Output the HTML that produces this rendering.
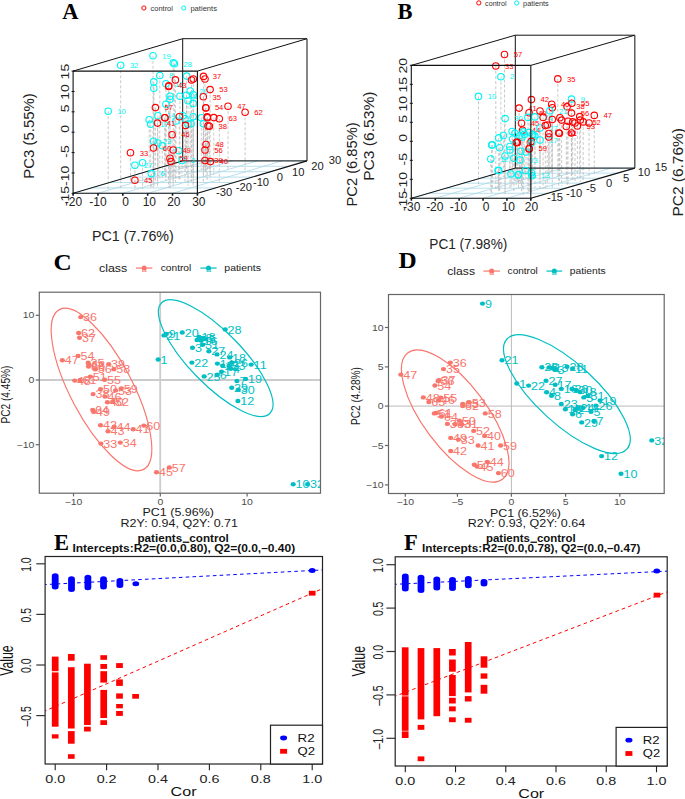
<!DOCTYPE html>
<html><head><meta charset="utf-8"><title>Figure</title>
<style>html,body{margin:0;padding:0;background:#fff;overflow:hidden}svg{display:block;font-family:"Liberation Sans",sans-serif}</style>
</head><body>
<svg width="685" height="799" viewBox="0 0 685 799"><text transform="translate(62.3,19.2)" font-family="Liberation Serif" font-size="22.5" fill="#000" text-anchor="start" font-weight="bold">A</text>
<text transform="translate(397.6,18.8)" font-family="Liberation Serif" font-size="22.5" fill="#000" text-anchor="start" font-weight="bold">B</text>
<text transform="translate(53.4,269.6) scale(1.12,1)" font-family="Liberation Serif" font-size="22.5" fill="#000" text-anchor="start" font-weight="bold">C</text>
<text transform="translate(398.4,268.3) scale(1.12,1)" font-family="Liberation Serif" font-size="22.5" fill="#000" text-anchor="start" font-weight="bold">D</text>
<text transform="translate(54,550.1)" font-family="Liberation Serif" font-size="22.5" fill="#000" text-anchor="start" font-weight="bold">E</text>
<text transform="translate(404,550.4)" font-family="Liberation Serif" font-size="22.5" fill="#000" text-anchor="start" font-weight="bold">F</text>
<line x1="73.1" y1="193.3" x2="182.7" y2="160.9" stroke="#a8d8e8" stroke-width="0.8"/>
<line x1="97.96" y1="193.3" x2="207.56" y2="160.9" stroke="#a8d8e8" stroke-width="0.8"/>
<line x1="122.82" y1="193.3" x2="232.42" y2="160.9" stroke="#a8d8e8" stroke-width="0.8"/>
<line x1="147.68" y1="193.3" x2="257.28" y2="160.9" stroke="#a8d8e8" stroke-width="0.8"/>
<line x1="172.54" y1="193.3" x2="282.14" y2="160.9" stroke="#a8d8e8" stroke-width="0.8"/>
<line x1="197.4" y1="193.3" x2="307" y2="160.9" stroke="#a8d8e8" stroke-width="0.8"/>
<line x1="73.1" y1="193.3" x2="197.4" y2="193.3" stroke="#a8d8e8" stroke-width="0.8"/>
<line x1="91.37" y1="187.9" x2="215.67" y2="187.9" stroke="#a8d8e8" stroke-width="0.8"/>
<line x1="109.63" y1="182.5" x2="233.93" y2="182.5" stroke="#a8d8e8" stroke-width="0.8"/>
<line x1="127.9" y1="177.1" x2="252.2" y2="177.1" stroke="#a8d8e8" stroke-width="0.8"/>
<line x1="146.17" y1="171.7" x2="270.47" y2="171.7" stroke="#a8d8e8" stroke-width="0.8"/>
<line x1="164.43" y1="166.3" x2="288.73" y2="166.3" stroke="#a8d8e8" stroke-width="0.8"/>
<line x1="182.7" y1="160.9" x2="307" y2="160.9" stroke="#a8d8e8" stroke-width="0.8"/>
<line x1="120.7" y1="65.3" x2="120.7" y2="188" stroke="#bdbdbd" stroke-width="0.8" stroke-dasharray="3,2"/>
<line x1="153" y1="55.8" x2="153" y2="187.26" stroke="#bdbdbd" stroke-width="0.8" stroke-dasharray="3,2"/>
<line x1="174.4" y1="63.8" x2="174.4" y2="175.16" stroke="#bdbdbd" stroke-width="0.8" stroke-dasharray="3,2"/>
<line x1="173.2" y1="62.8" x2="173.2" y2="187.36" stroke="#bdbdbd" stroke-width="0.8" stroke-dasharray="3,2"/>
<line x1="159.8" y1="75.5" x2="159.8" y2="179.84" stroke="#bdbdbd" stroke-width="0.8" stroke-dasharray="3,2"/>
<line x1="153.8" y1="81.9" x2="153.8" y2="183.61" stroke="#bdbdbd" stroke-width="0.8" stroke-dasharray="3,2"/>
<line x1="153.8" y1="88.2" x2="153.8" y2="188.75" stroke="#bdbdbd" stroke-width="0.8" stroke-dasharray="3,2"/>
<line x1="165.9" y1="83.8" x2="165.9" y2="179.44" stroke="#bdbdbd" stroke-width="0.8" stroke-dasharray="3,2"/>
<line x1="108.2" y1="111.2" x2="108.2" y2="191.47" stroke="#bdbdbd" stroke-width="0.8" stroke-dasharray="3,2"/>
<line x1="165.9" y1="104.2" x2="165.9" y2="180.86" stroke="#bdbdbd" stroke-width="0.8" stroke-dasharray="3,2"/>
<line x1="170" y1="96.2" x2="170" y2="187.6" stroke="#bdbdbd" stroke-width="0.8" stroke-dasharray="3,2"/>
<line x1="170" y1="99.3" x2="170" y2="187.18" stroke="#bdbdbd" stroke-width="0.8" stroke-dasharray="3,2"/>
<line x1="179.9" y1="96.2" x2="179.9" y2="179.18" stroke="#bdbdbd" stroke-width="0.8" stroke-dasharray="3,2"/>
<line x1="186.5" y1="95.2" x2="186.5" y2="169.69" stroke="#bdbdbd" stroke-width="0.8" stroke-dasharray="3,2"/>
<line x1="193.3" y1="94.8" x2="193.3" y2="185.63" stroke="#bdbdbd" stroke-width="0.8" stroke-dasharray="3,2"/>
<line x1="188" y1="100.8" x2="188" y2="183.38" stroke="#bdbdbd" stroke-width="0.8" stroke-dasharray="3,2"/>
<line x1="193.1" y1="103.4" x2="193.1" y2="174.21" stroke="#bdbdbd" stroke-width="0.8" stroke-dasharray="3,2"/>
<line x1="190.2" y1="91" x2="190.2" y2="166.95" stroke="#bdbdbd" stroke-width="0.8" stroke-dasharray="3,2"/>
<line x1="186.7" y1="76.1" x2="186.7" y2="175.35" stroke="#bdbdbd" stroke-width="0.8" stroke-dasharray="3,2"/>
<line x1="157.9" y1="115.7" x2="157.9" y2="182.58" stroke="#bdbdbd" stroke-width="0.8" stroke-dasharray="3,2"/>
<line x1="149.2" y1="119.7" x2="149.2" y2="174.55" stroke="#bdbdbd" stroke-width="0.8" stroke-dasharray="3,2"/>
<line x1="150.7" y1="124.3" x2="150.7" y2="189.11" stroke="#bdbdbd" stroke-width="0.8" stroke-dasharray="3,2"/>
<line x1="182.9" y1="115.7" x2="182.9" y2="168.97" stroke="#bdbdbd" stroke-width="0.8" stroke-dasharray="3,2"/>
<line x1="185" y1="118.7" x2="185" y2="181.87" stroke="#bdbdbd" stroke-width="0.8" stroke-dasharray="3,2"/>
<line x1="193.1" y1="116.7" x2="193.1" y2="185.17" stroke="#bdbdbd" stroke-width="0.8" stroke-dasharray="3,2"/>
<line x1="188" y1="124.3" x2="188" y2="185.77" stroke="#bdbdbd" stroke-width="0.8" stroke-dasharray="3,2"/>
<line x1="191.1" y1="123.8" x2="191.1" y2="181.44" stroke="#bdbdbd" stroke-width="0.8" stroke-dasharray="3,2"/>
<line x1="201.3" y1="117.7" x2="201.3" y2="169.61" stroke="#bdbdbd" stroke-width="0.8" stroke-dasharray="3,2"/>
<line x1="203.4" y1="123.8" x2="203.4" y2="183.06" stroke="#bdbdbd" stroke-width="0.8" stroke-dasharray="3,2"/>
<line x1="153.5" y1="141.2" x2="153.5" y2="180.06" stroke="#bdbdbd" stroke-width="0.8" stroke-dasharray="3,2"/>
<line x1="162.3" y1="145.8" x2="162.3" y2="177.55" stroke="#bdbdbd" stroke-width="0.8" stroke-dasharray="3,2"/>
<line x1="178.7" y1="150.7" x2="178.7" y2="180.48" stroke="#bdbdbd" stroke-width="0.8" stroke-dasharray="3,2"/>
<line x1="182" y1="160.5" x2="182" y2="176.13" stroke="#bdbdbd" stroke-width="0.8" stroke-dasharray="3,2"/>
<line x1="134.9" y1="165.3" x2="134.9" y2="189.76" stroke="#bdbdbd" stroke-width="0.8" stroke-dasharray="3,2"/>
<line x1="142.6" y1="162.7" x2="142.6" y2="189.36" stroke="#bdbdbd" stroke-width="0.8" stroke-dasharray="3,2"/>
<line x1="151.3" y1="173.6" x2="151.3" y2="186.5" stroke="#bdbdbd" stroke-width="0.8" stroke-dasharray="3,2"/>
<line x1="158" y1="143" x2="158" y2="177.58" stroke="#bdbdbd" stroke-width="0.8" stroke-dasharray="3,2"/>
<line x1="176" y1="121" x2="176" y2="179.63" stroke="#bdbdbd" stroke-width="0.8" stroke-dasharray="3,2"/>
<line x1="175.4" y1="79.9" x2="175.4" y2="182.11" stroke="#bdbdbd" stroke-width="0.8" stroke-dasharray="3,2"/>
<line x1="168.8" y1="85.7" x2="168.8" y2="177.46" stroke="#bdbdbd" stroke-width="0.8" stroke-dasharray="3,2"/>
<line x1="193.3" y1="79" x2="193.3" y2="178.16" stroke="#bdbdbd" stroke-width="0.8" stroke-dasharray="3,2"/>
<line x1="191.5" y1="80" x2="191.5" y2="181.64" stroke="#bdbdbd" stroke-width="0.8" stroke-dasharray="3,2"/>
<line x1="203.5" y1="76.4" x2="203.5" y2="169.89" stroke="#bdbdbd" stroke-width="0.8" stroke-dasharray="3,2"/>
<line x1="205" y1="79" x2="205" y2="171.78" stroke="#bdbdbd" stroke-width="0.8" stroke-dasharray="3,2"/>
<line x1="210.1" y1="89.6" x2="210.1" y2="180.35" stroke="#bdbdbd" stroke-width="0.8" stroke-dasharray="3,2"/>
<line x1="203.3" y1="96.8" x2="203.3" y2="174.63" stroke="#bdbdbd" stroke-width="0.8" stroke-dasharray="3,2"/>
<line x1="155.4" y1="107.6" x2="155.4" y2="180.71" stroke="#bdbdbd" stroke-width="0.8" stroke-dasharray="3,2"/>
<line x1="205.7" y1="107.7" x2="205.7" y2="168.01" stroke="#bdbdbd" stroke-width="0.8" stroke-dasharray="3,2"/>
<line x1="228" y1="106.2" x2="228" y2="168.83" stroke="#bdbdbd" stroke-width="0.8" stroke-dasharray="3,2"/>
<line x1="245.1" y1="112.3" x2="245.1" y2="172.77" stroke="#bdbdbd" stroke-width="0.8" stroke-dasharray="3,2"/>
<line x1="164.8" y1="117.7" x2="164.8" y2="170.63" stroke="#bdbdbd" stroke-width="0.8" stroke-dasharray="3,2"/>
<line x1="157.5" y1="123.1" x2="157.5" y2="187.5" stroke="#bdbdbd" stroke-width="0.8" stroke-dasharray="3,2"/>
<line x1="179.3" y1="116.7" x2="179.3" y2="179.4" stroke="#bdbdbd" stroke-width="0.8" stroke-dasharray="3,2"/>
<line x1="185.5" y1="125.4" x2="185.5" y2="171.27" stroke="#bdbdbd" stroke-width="0.8" stroke-dasharray="3,2"/>
<line x1="207.2" y1="116.9" x2="207.2" y2="182.84" stroke="#bdbdbd" stroke-width="0.8" stroke-dasharray="3,2"/>
<line x1="213.8" y1="117.6" x2="213.8" y2="174.89" stroke="#bdbdbd" stroke-width="0.8" stroke-dasharray="3,2"/>
<line x1="219.3" y1="118.7" x2="219.3" y2="182.23" stroke="#bdbdbd" stroke-width="0.8" stroke-dasharray="3,2"/>
<line x1="209.4" y1="126.3" x2="209.4" y2="171.93" stroke="#bdbdbd" stroke-width="0.8" stroke-dasharray="3,2"/>
<line x1="208" y1="125.9" x2="208" y2="170.11" stroke="#bdbdbd" stroke-width="0.8" stroke-dasharray="3,2"/>
<line x1="172.1" y1="134.7" x2="172.1" y2="177.17" stroke="#bdbdbd" stroke-width="0.8" stroke-dasharray="3,2"/>
<line x1="153.5" y1="148" x2="153.5" y2="175.17" stroke="#bdbdbd" stroke-width="0.8" stroke-dasharray="3,2"/>
<line x1="173.2" y1="150" x2="173.2" y2="182.36" stroke="#bdbdbd" stroke-width="0.8" stroke-dasharray="3,2"/>
<line x1="130.5" y1="152.8" x2="130.5" y2="182.5" stroke="#bdbdbd" stroke-width="0.8" stroke-dasharray="3,2"/>
<line x1="170" y1="158.3" x2="170" y2="177.08" stroke="#bdbdbd" stroke-width="0.8" stroke-dasharray="3,2"/>
<line x1="171" y1="161.6" x2="171" y2="177.21" stroke="#bdbdbd" stroke-width="0.8" stroke-dasharray="3,2"/>
<line x1="206" y1="144.5" x2="206" y2="176.74" stroke="#bdbdbd" stroke-width="0.8" stroke-dasharray="3,2"/>
<line x1="205" y1="150" x2="205" y2="168.8" stroke="#bdbdbd" stroke-width="0.8" stroke-dasharray="3,2"/>
<line x1="205" y1="160.5" x2="205" y2="166.59" stroke="#bdbdbd" stroke-width="0.8" stroke-dasharray="3,2"/>
<line x1="210.4" y1="161.6" x2="210.4" y2="175.7" stroke="#bdbdbd" stroke-width="0.8" stroke-dasharray="3,2"/>
<line x1="134.9" y1="180.2" x2="134.9" y2="186.2" stroke="#bdbdbd" stroke-width="0.8" stroke-dasharray="3,2"/>
<line x1="168.6" y1="86.5" x2="168.6" y2="187.87" stroke="#bdbdbd" stroke-width="0.8" stroke-dasharray="3,2"/>
<line x1="205.9" y1="108" x2="205.9" y2="171.63" stroke="#bdbdbd" stroke-width="0.8" stroke-dasharray="3,2"/>
<line x1="165" y1="117.7" x2="165" y2="176.92" stroke="#bdbdbd" stroke-width="0.8" stroke-dasharray="3,2"/>
<line x1="207.4" y1="117.7" x2="207.4" y2="165.46" stroke="#bdbdbd" stroke-width="0.8" stroke-dasharray="3,2"/>
<line x1="182.7" y1="38.7" x2="182.7" y2="160.9" stroke="#111" stroke-width="1"/>
<line x1="182.7" y1="160.9" x2="307" y2="160.9" stroke="#111" stroke-width="1"/>
<line x1="73.1" y1="193.3" x2="182.7" y2="160.9" stroke="#111" stroke-width="1"/>
<circle cx="120.7" cy="65.3" r="3.25" stroke="#00f4f4" stroke-width="1.1" fill="none"/>
<text transform="translate(129.9,68)" font-family="Liberation Sans" font-size="7.6" fill="#00f4f4" text-anchor="start" font-weight="normal">32</text>
<circle cx="153" cy="55.8" r="3.25" stroke="#00f4f4" stroke-width="1.1" fill="none"/>
<text transform="translate(162.2,58.5)" font-family="Liberation Sans" font-size="7.6" fill="#00f4f4" text-anchor="start" font-weight="normal">19</text>
<circle cx="174.4" cy="63.8" r="3.25" stroke="#00f4f4" stroke-width="1.1" fill="none"/>
<text transform="translate(183.6,66.5)" font-family="Liberation Sans" font-size="7.6" fill="#00f4f4" text-anchor="start" font-weight="normal">28</text>
<circle cx="173.2" cy="62.8" r="3.25" stroke="#00f4f4" stroke-width="1.1" fill="none"/>
<circle cx="159.8" cy="75.5" r="3.25" stroke="#00f4f4" stroke-width="1.1" fill="none"/>
<text transform="translate(169,78.2)" font-family="Liberation Sans" font-size="7.6" fill="#00f4f4" text-anchor="start" font-weight="normal">8</text>
<circle cx="153.8" cy="81.9" r="3.25" stroke="#00f4f4" stroke-width="1.1" fill="none"/>
<circle cx="153.8" cy="88.2" r="3.25" stroke="#00f4f4" stroke-width="1.1" fill="none"/>
<circle cx="165.9" cy="83.8" r="3.25" stroke="#00f4f4" stroke-width="1.1" fill="none"/>
<text transform="translate(175.1,86.5)" font-family="Liberation Sans" font-size="7.6" fill="#00f4f4" text-anchor="start" font-weight="normal">11</text>
<circle cx="108.2" cy="111.2" r="3.25" stroke="#00f4f4" stroke-width="1.1" fill="none"/>
<text transform="translate(117.4,113.9)" font-family="Liberation Sans" font-size="7.6" fill="#00f4f4" text-anchor="start" font-weight="normal">10</text>
<circle cx="165.9" cy="104.2" r="3.25" stroke="#00f4f4" stroke-width="1.1" fill="none"/>
<circle cx="170" cy="96.2" r="3.25" stroke="#00f4f4" stroke-width="1.1" fill="none"/>
<circle cx="170" cy="99.3" r="3.25" stroke="#00f4f4" stroke-width="1.1" fill="none"/>
<circle cx="179.9" cy="96.2" r="3.25" stroke="#00f4f4" stroke-width="1.1" fill="none"/>
<text transform="translate(189.1,98.9)" font-family="Liberation Sans" font-size="7.6" fill="#00f4f4" text-anchor="start" font-weight="normal">16</text>
<circle cx="186.5" cy="95.2" r="3.25" stroke="#00f4f4" stroke-width="1.1" fill="none"/>
<circle cx="193.3" cy="94.8" r="3.25" stroke="#00f4f4" stroke-width="1.1" fill="none"/>
<circle cx="188" cy="100.8" r="3.25" stroke="#00f4f4" stroke-width="1.1" fill="none"/>
<circle cx="193.1" cy="103.4" r="3.25" stroke="#00f4f4" stroke-width="1.1" fill="none"/>
<circle cx="190.2" cy="91" r="3.25" stroke="#00f4f4" stroke-width="1.1" fill="none"/>
<text transform="translate(199.4,93.7)" font-family="Liberation Sans" font-size="7.6" fill="#00f4f4" text-anchor="start" font-weight="normal">20</text>
<circle cx="186.7" cy="76.1" r="3.25" stroke="#00f4f4" stroke-width="1.1" fill="none"/>
<circle cx="157.9" cy="115.7" r="3.25" stroke="#00f4f4" stroke-width="1.1" fill="none"/>
<text transform="translate(167.1,118.4)" font-family="Liberation Sans" font-size="7.6" fill="#00f4f4" text-anchor="start" font-weight="normal">14</text>
<circle cx="149.2" cy="119.7" r="3.25" stroke="#00f4f4" stroke-width="1.1" fill="none"/>
<circle cx="150.7" cy="124.3" r="3.25" stroke="#00f4f4" stroke-width="1.1" fill="none"/>
<text transform="translate(159.9,127)" font-family="Liberation Sans" font-size="7.6" fill="#00f4f4" text-anchor="start" font-weight="normal">17</text>
<circle cx="182.9" cy="115.7" r="3.25" stroke="#00f4f4" stroke-width="1.1" fill="none"/>
<circle cx="185" cy="118.7" r="3.25" stroke="#00f4f4" stroke-width="1.1" fill="none"/>
<text transform="translate(194.2,121.4)" font-family="Liberation Sans" font-size="7.6" fill="#00f4f4" text-anchor="start" font-weight="normal">4</text>
<circle cx="193.1" cy="116.7" r="3.25" stroke="#00f4f4" stroke-width="1.1" fill="none"/>
<circle cx="188" cy="124.3" r="3.25" stroke="#00f4f4" stroke-width="1.1" fill="none"/>
<circle cx="191.1" cy="123.8" r="3.25" stroke="#00f4f4" stroke-width="1.1" fill="none"/>
<circle cx="201.3" cy="117.7" r="3.25" stroke="#00f4f4" stroke-width="1.1" fill="none"/>
<circle cx="203.4" cy="123.8" r="3.25" stroke="#00f4f4" stroke-width="1.1" fill="none"/>
<circle cx="153.5" cy="141.2" r="3.25" stroke="#00f4f4" stroke-width="1.1" fill="none"/>
<text transform="translate(162.7,143.9)" font-family="Liberation Sans" font-size="7.6" fill="#00f4f4" text-anchor="start" font-weight="normal">23</text>
<circle cx="162.3" cy="145.8" r="3.25" stroke="#00f4f4" stroke-width="1.1" fill="none"/>
<circle cx="178.7" cy="150.7" r="3.25" stroke="#00f4f4" stroke-width="1.1" fill="none"/>
<circle cx="182" cy="160.5" r="3.25" stroke="#00f4f4" stroke-width="1.1" fill="none"/>
<text transform="translate(191.2,163.2)" font-family="Liberation Sans" font-size="7.6" fill="#00f4f4" text-anchor="start" font-weight="normal">2</text>
<circle cx="134.9" cy="165.3" r="3.25" stroke="#00f4f4" stroke-width="1.1" fill="none"/>
<text transform="translate(144.1,168)" font-family="Liberation Sans" font-size="7.6" fill="#00f4f4" text-anchor="start" font-weight="normal">27</text>
<circle cx="142.6" cy="162.7" r="3.25" stroke="#00f4f4" stroke-width="1.1" fill="none"/>
<circle cx="151.3" cy="173.6" r="3.25" stroke="#00f4f4" stroke-width="1.1" fill="none"/>
<text transform="translate(160.5,176.3)" font-family="Liberation Sans" font-size="7.6" fill="#00f4f4" text-anchor="start" font-weight="normal">6</text>
<circle cx="158" cy="143" r="3.25" stroke="#00f4f4" stroke-width="1.1" fill="none"/>
<circle cx="176" cy="121" r="3.25" stroke="#00f4f4" stroke-width="1.1" fill="none"/>
<circle cx="175.4" cy="79.9" r="3.25" stroke="#ff0000" stroke-width="1.1" fill="none"/>
<circle cx="168.8" cy="85.7" r="3.25" stroke="#ff0000" stroke-width="1.1" fill="none"/>
<text transform="translate(178,88.4)" font-family="Liberation Sans" font-size="7.6" fill="#ff0000" text-anchor="start" font-weight="normal">43</text>
<circle cx="193.3" cy="79" r="3.25" stroke="#ff0000" stroke-width="1.1" fill="none"/>
<circle cx="191.5" cy="80" r="3.25" stroke="#ff0000" stroke-width="1.1" fill="none"/>
<circle cx="203.5" cy="76.4" r="3.25" stroke="#ff0000" stroke-width="1.1" fill="none"/>
<text transform="translate(212.7,79.1)" font-family="Liberation Sans" font-size="7.6" fill="#ff0000" text-anchor="start" font-weight="normal">37</text>
<circle cx="205" cy="79" r="3.25" stroke="#ff0000" stroke-width="1.1" fill="none"/>
<circle cx="210.1" cy="89.6" r="3.25" stroke="#ff0000" stroke-width="1.1" fill="none"/>
<text transform="translate(219.3,92.3)" font-family="Liberation Sans" font-size="7.6" fill="#ff0000" text-anchor="start" font-weight="normal">53</text>
<circle cx="203.3" cy="96.8" r="3.25" stroke="#ff0000" stroke-width="1.1" fill="none"/>
<text transform="translate(212.5,99.5)" font-family="Liberation Sans" font-size="7.6" fill="#ff0000" text-anchor="start" font-weight="normal">35</text>
<circle cx="155.4" cy="107.6" r="3.25" stroke="#ff0000" stroke-width="1.1" fill="none"/>
<text transform="translate(164.6,110.3)" font-family="Liberation Sans" font-size="7.6" fill="#ff0000" text-anchor="start" font-weight="normal">57</text>
<circle cx="205.7" cy="107.7" r="3.25" stroke="#ff0000" stroke-width="1.1" fill="none"/>
<text transform="translate(214.9,110.4)" font-family="Liberation Sans" font-size="7.6" fill="#ff0000" text-anchor="start" font-weight="normal">54</text>
<circle cx="228" cy="106.2" r="3.25" stroke="#ff0000" stroke-width="1.1" fill="none"/>
<text transform="translate(237.2,108.9)" font-family="Liberation Sans" font-size="7.6" fill="#ff0000" text-anchor="start" font-weight="normal">47</text>
<circle cx="245.1" cy="112.3" r="3.25" stroke="#ff0000" stroke-width="1.1" fill="none"/>
<text transform="translate(254.3,115)" font-family="Liberation Sans" font-size="7.6" fill="#ff0000" text-anchor="start" font-weight="normal">62</text>
<circle cx="164.8" cy="117.7" r="3.25" stroke="#ff0000" stroke-width="1.1" fill="none"/>
<circle cx="157.5" cy="123.1" r="3.25" stroke="#ff0000" stroke-width="1.1" fill="none"/>
<text transform="translate(166.7,125.8)" font-family="Liberation Sans" font-size="7.6" fill="#ff0000" text-anchor="start" font-weight="normal">41</text>
<circle cx="179.3" cy="116.7" r="3.25" stroke="#ff0000" stroke-width="1.1" fill="none"/>
<circle cx="185.5" cy="125.4" r="3.25" stroke="#ff0000" stroke-width="1.1" fill="none"/>
<circle cx="207.2" cy="116.9" r="3.25" stroke="#ff0000" stroke-width="1.1" fill="none"/>
<circle cx="213.8" cy="117.6" r="3.25" stroke="#ff0000" stroke-width="1.1" fill="none"/>
<circle cx="219.3" cy="118.7" r="3.25" stroke="#ff0000" stroke-width="1.1" fill="none"/>
<text transform="translate(228.5,121.4)" font-family="Liberation Sans" font-size="7.6" fill="#ff0000" text-anchor="start" font-weight="normal">63</text>
<circle cx="209.4" cy="126.3" r="3.25" stroke="#ff0000" stroke-width="1.1" fill="none"/>
<text transform="translate(218.6,129)" font-family="Liberation Sans" font-size="7.6" fill="#ff0000" text-anchor="start" font-weight="normal">38</text>
<circle cx="208" cy="125.9" r="3.25" stroke="#ff0000" stroke-width="1.1" fill="none"/>
<circle cx="172.1" cy="134.7" r="3.25" stroke="#ff0000" stroke-width="1.1" fill="none"/>
<text transform="translate(181.3,137.4)" font-family="Liberation Sans" font-size="7.6" fill="#ff0000" text-anchor="start" font-weight="normal">46</text>
<circle cx="153.5" cy="148" r="3.25" stroke="#ff0000" stroke-width="1.1" fill="none"/>
<text transform="translate(162.7,150.7)" font-family="Liberation Sans" font-size="7.6" fill="#ff0000" text-anchor="start" font-weight="normal">60</text>
<circle cx="173.2" cy="150" r="3.25" stroke="#ff0000" stroke-width="1.1" fill="none"/>
<text transform="translate(182.4,152.7)" font-family="Liberation Sans" font-size="7.6" fill="#ff0000" text-anchor="start" font-weight="normal">49</text>
<circle cx="130.5" cy="152.8" r="3.25" stroke="#ff0000" stroke-width="1.1" fill="none"/>
<text transform="translate(139.7,155.5)" font-family="Liberation Sans" font-size="7.6" fill="#ff0000" text-anchor="start" font-weight="normal">33</text>
<circle cx="170" cy="158.3" r="3.25" stroke="#ff0000" stroke-width="1.1" fill="none"/>
<text transform="translate(179.2,161)" font-family="Liberation Sans" font-size="7.6" fill="#ff0000" text-anchor="start" font-weight="normal">59</text>
<circle cx="171" cy="161.6" r="3.25" stroke="#ff0000" stroke-width="1.1" fill="none"/>
<circle cx="206" cy="144.5" r="3.25" stroke="#ff0000" stroke-width="1.1" fill="none"/>
<text transform="translate(215.2,147.2)" font-family="Liberation Sans" font-size="7.6" fill="#ff0000" text-anchor="start" font-weight="normal">48</text>
<circle cx="205" cy="150" r="3.25" stroke="#ff0000" stroke-width="1.1" fill="none"/>
<text transform="translate(214.2,152.7)" font-family="Liberation Sans" font-size="7.6" fill="#ff0000" text-anchor="start" font-weight="normal">56</text>
<circle cx="205" cy="160.5" r="3.25" stroke="#ff0000" stroke-width="1.1" fill="none"/>
<text transform="translate(214.2,163.2)" font-family="Liberation Sans" font-size="7.6" fill="#ff0000" text-anchor="start" font-weight="normal">39</text>
<circle cx="210.4" cy="161.6" r="3.25" stroke="#ff0000" stroke-width="1.1" fill="none"/>
<text transform="translate(219.6,164.3)" font-family="Liberation Sans" font-size="7.6" fill="#ff0000" text-anchor="start" font-weight="normal">40</text>
<circle cx="134.9" cy="180.2" r="3.25" stroke="#ff0000" stroke-width="1.1" fill="none"/>
<text transform="translate(144.1,182.9)" font-family="Liberation Sans" font-size="7.6" fill="#ff0000" text-anchor="start" font-weight="normal">45</text>
<circle cx="168.6" cy="86.5" r="3.25" stroke="#ff0000" stroke-width="1.1" fill="none"/>
<circle cx="205.9" cy="108" r="3.25" stroke="#ff0000" stroke-width="1.1" fill="none"/>
<circle cx="165" cy="117.7" r="3.25" stroke="#ff0000" stroke-width="1.1" fill="none"/>
<circle cx="207.4" cy="117.7" r="3.25" stroke="#ff0000" stroke-width="1.1" fill="none"/>
<line x1="73.1" y1="71.1" x2="73.1" y2="193.3" stroke="#111" stroke-width="1.1"/>
<line x1="73.1" y1="193.3" x2="197.4" y2="193.3" stroke="#111" stroke-width="1.1"/>
<line x1="197.4" y1="71.1" x2="197.4" y2="193.3" stroke="#111" stroke-width="1.1"/>
<line x1="73.1" y1="71.1" x2="197.4" y2="71.1" stroke="#111" stroke-width="1.1"/>
<line x1="73.1" y1="71.1" x2="182.7" y2="38.7" stroke="#111" stroke-width="1"/>
<line x1="182.7" y1="38.7" x2="307" y2="38.7" stroke="#111" stroke-width="1"/>
<line x1="197.4" y1="71.1" x2="307" y2="38.7" stroke="#111" stroke-width="1"/>
<line x1="307" y1="38.7" x2="307" y2="160.9" stroke="#444" stroke-width="1.3"/>
<line x1="197.4" y1="193.3" x2="307" y2="160.9" stroke="#111" stroke-width="1.1"/>
<line x1="73.1" y1="193.3" x2="73.1" y2="195.7" stroke="#111" stroke-width="1.6"/>
<line x1="97.96" y1="193.3" x2="97.96" y2="195.7" stroke="#111" stroke-width="1.6"/>
<line x1="122.82" y1="193.3" x2="122.82" y2="195.7" stroke="#111" stroke-width="1.6"/>
<line x1="147.68" y1="193.3" x2="147.68" y2="195.7" stroke="#111" stroke-width="1.6"/>
<line x1="172.54" y1="193.3" x2="172.54" y2="195.7" stroke="#111" stroke-width="1.6"/>
<line x1="197.4" y1="193.3" x2="197.4" y2="195.7" stroke="#111" stroke-width="1.6"/>
<line x1="71.6" y1="71.1" x2="74.6" y2="71.1" stroke="#111" stroke-width="1"/>
<line x1="71.6" y1="91.47" x2="74.6" y2="91.47" stroke="#111" stroke-width="1"/>
<line x1="71.6" y1="111.84" x2="74.6" y2="111.84" stroke="#111" stroke-width="1"/>
<line x1="71.6" y1="132.21" x2="74.6" y2="132.21" stroke="#111" stroke-width="1"/>
<line x1="71.6" y1="152.58" x2="74.6" y2="152.58" stroke="#111" stroke-width="1"/>
<line x1="71.6" y1="172.95" x2="74.6" y2="172.95" stroke="#111" stroke-width="1"/>
<line x1="71.6" y1="193.32" x2="74.6" y2="193.32" stroke="#111" stroke-width="1"/>
<text transform="translate(73.4,206.1)" font-family="Liberation Sans" font-size="12" fill="#222" text-anchor="middle" font-weight="normal">-20</text>
<text transform="translate(98,206.1)" font-family="Liberation Sans" font-size="12" fill="#222" text-anchor="middle" font-weight="normal">-10</text>
<text transform="translate(125.6,206.1)" font-family="Liberation Sans" font-size="12" fill="#222" text-anchor="middle" font-weight="normal">0</text>
<text transform="translate(149.3,206.1)" font-family="Liberation Sans" font-size="12" fill="#222" text-anchor="middle" font-weight="normal">10</text>
<text transform="translate(173.8,206.1)" font-family="Liberation Sans" font-size="12" fill="#222" text-anchor="middle" font-weight="normal">20</text>
<text transform="translate(198.8,206.1)" font-family="Liberation Sans" font-size="12" fill="#222" text-anchor="middle" font-weight="normal">30</text>
<text transform="translate(69.2,63.8) rotate(-90) scale(1.24,1)" font-family="Liberation Sans" font-size="11.3" fill="#222" text-anchor="end" font-weight="normal">15</text>
<text transform="translate(69.2,84.17) rotate(-90) scale(1.24,1)" font-family="Liberation Sans" font-size="11.3" fill="#222" text-anchor="end" font-weight="normal">10</text>
<text transform="translate(69.2,104.54) rotate(-90) scale(1.24,1)" font-family="Liberation Sans" font-size="11.3" fill="#222" text-anchor="end" font-weight="normal">5</text>
<text transform="translate(69.2,124.91) rotate(-90) scale(1.24,1)" font-family="Liberation Sans" font-size="11.3" fill="#222" text-anchor="end" font-weight="normal">0</text>
<text transform="translate(69.2,145.28) rotate(-90) scale(1.24,1)" font-family="Liberation Sans" font-size="11.3" fill="#222" text-anchor="end" font-weight="normal">-5</text>
<text transform="translate(69.2,165.65) rotate(-90) scale(1.24,1)" font-family="Liberation Sans" font-size="11.3" fill="#222" text-anchor="end" font-weight="normal">-10</text>
<text transform="translate(69.2,186.02) rotate(-90) scale(1.24,1)" font-family="Liberation Sans" font-size="11.3" fill="#222" text-anchor="end" font-weight="normal">-15</text>
<text transform="translate(224.2,196.3)" font-family="Liberation Sans" font-size="11.2" fill="#222" text-anchor="middle" font-weight="normal">-30</text>
<text transform="translate(243.9,190.5)" font-family="Liberation Sans" font-size="11.2" fill="#222" text-anchor="middle" font-weight="normal">-20</text>
<text transform="translate(261,186)" font-family="Liberation Sans" font-size="11.2" fill="#222" text-anchor="middle" font-weight="normal">-10</text>
<text transform="translate(279.9,180.8)" font-family="Liberation Sans" font-size="11.2" fill="#222" text-anchor="middle" font-weight="normal">0</text>
<text transform="translate(298.2,175.5)" font-family="Liberation Sans" font-size="11.2" fill="#222" text-anchor="middle" font-weight="normal">10</text>
<text transform="translate(317.4,170)" font-family="Liberation Sans" font-size="11.2" fill="#222" text-anchor="middle" font-weight="normal">20</text>
<text transform="translate(335,164.2)" font-family="Liberation Sans" font-size="11.2" fill="#222" text-anchor="middle" font-weight="normal">30</text>
<line x1="411.4" y1="198.3" x2="515.4" y2="168.1" stroke="#a8d8e8" stroke-width="0.8"/>
<line x1="435.28" y1="198.3" x2="539.28" y2="168.1" stroke="#a8d8e8" stroke-width="0.8"/>
<line x1="459.16" y1="198.3" x2="563.16" y2="168.1" stroke="#a8d8e8" stroke-width="0.8"/>
<line x1="483.04" y1="198.3" x2="587.04" y2="168.1" stroke="#a8d8e8" stroke-width="0.8"/>
<line x1="506.92" y1="198.3" x2="610.92" y2="168.1" stroke="#a8d8e8" stroke-width="0.8"/>
<line x1="530.8" y1="198.3" x2="634.8" y2="168.1" stroke="#a8d8e8" stroke-width="0.8"/>
<line x1="411.3" y1="198.3" x2="530.8" y2="198.3" stroke="#a8d8e8" stroke-width="0.8"/>
<line x1="428.63" y1="193.27" x2="548.13" y2="193.27" stroke="#a8d8e8" stroke-width="0.8"/>
<line x1="445.97" y1="188.23" x2="565.47" y2="188.23" stroke="#a8d8e8" stroke-width="0.8"/>
<line x1="463.3" y1="183.2" x2="582.8" y2="183.2" stroke="#a8d8e8" stroke-width="0.8"/>
<line x1="480.63" y1="178.17" x2="600.13" y2="178.17" stroke="#a8d8e8" stroke-width="0.8"/>
<line x1="497.97" y1="173.13" x2="617.47" y2="173.13" stroke="#a8d8e8" stroke-width="0.8"/>
<line x1="515.3" y1="168.1" x2="634.8" y2="168.1" stroke="#a8d8e8" stroke-width="0.8"/>
<line x1="504.5" y1="54.5" x2="504.5" y2="177.8" stroke="#bdbdbd" stroke-width="0.8" stroke-dasharray="3,2"/>
<line x1="495.8" y1="66" x2="495.8" y2="190.26" stroke="#bdbdbd" stroke-width="0.8" stroke-dasharray="3,2"/>
<line x1="500.9" y1="76.7" x2="500.9" y2="187.67" stroke="#bdbdbd" stroke-width="0.8" stroke-dasharray="3,2"/>
<line x1="478.5" y1="96.4" x2="478.5" y2="185.91" stroke="#bdbdbd" stroke-width="0.8" stroke-dasharray="3,2"/>
<line x1="531.4" y1="99.6" x2="531.4" y2="194.58" stroke="#bdbdbd" stroke-width="0.8" stroke-dasharray="3,2"/>
<line x1="519.1" y1="108.1" x2="519.1" y2="184.13" stroke="#bdbdbd" stroke-width="0.8" stroke-dasharray="3,2"/>
<line x1="529.1" y1="112.8" x2="529.1" y2="191.22" stroke="#bdbdbd" stroke-width="0.8" stroke-dasharray="3,2"/>
<line x1="505.1" y1="118.6" x2="505.1" y2="193.02" stroke="#bdbdbd" stroke-width="0.8" stroke-dasharray="3,2"/>
<line x1="527.9" y1="117.4" x2="527.9" y2="193.86" stroke="#bdbdbd" stroke-width="0.8" stroke-dasharray="3,2"/>
<line x1="534.9" y1="116.9" x2="534.9" y2="176.38" stroke="#bdbdbd" stroke-width="0.8" stroke-dasharray="3,2"/>
<line x1="521.5" y1="123.3" x2="521.5" y2="192.16" stroke="#bdbdbd" stroke-width="0.8" stroke-dasharray="3,2"/>
<line x1="522.6" y1="130.3" x2="522.6" y2="189.3" stroke="#bdbdbd" stroke-width="0.8" stroke-dasharray="3,2"/>
<line x1="512.1" y1="131.5" x2="512.1" y2="186.22" stroke="#bdbdbd" stroke-width="0.8" stroke-dasharray="3,2"/>
<line x1="503.4" y1="135.5" x2="503.4" y2="176.98" stroke="#bdbdbd" stroke-width="0.8" stroke-dasharray="3,2"/>
<line x1="498.7" y1="137.9" x2="498.7" y2="194.13" stroke="#bdbdbd" stroke-width="0.8" stroke-dasharray="3,2"/>
<line x1="492.3" y1="144.9" x2="492.3" y2="187.5" stroke="#bdbdbd" stroke-width="0.8" stroke-dasharray="3,2"/>
<line x1="515" y1="133.2" x2="515" y2="182.05" stroke="#bdbdbd" stroke-width="0.8" stroke-dasharray="3,2"/>
<line x1="519.7" y1="135.5" x2="519.7" y2="173.94" stroke="#bdbdbd" stroke-width="0.8" stroke-dasharray="3,2"/>
<line x1="524.4" y1="134.4" x2="524.4" y2="175.49" stroke="#bdbdbd" stroke-width="0.8" stroke-dasharray="3,2"/>
<line x1="532.6" y1="134.4" x2="532.6" y2="174.3" stroke="#bdbdbd" stroke-width="0.8" stroke-dasharray="3,2"/>
<line x1="534.9" y1="136.1" x2="534.9" y2="187.75" stroke="#bdbdbd" stroke-width="0.8" stroke-dasharray="3,2"/>
<line x1="516.2" y1="142.6" x2="516.2" y2="185.25" stroke="#bdbdbd" stroke-width="0.8" stroke-dasharray="3,2"/>
<line x1="531.4" y1="141.4" x2="531.4" y2="186.51" stroke="#bdbdbd" stroke-width="0.8" stroke-dasharray="3,2"/>
<line x1="529.3" y1="148.5" x2="529.3" y2="173.92" stroke="#bdbdbd" stroke-width="0.8" stroke-dasharray="3,2"/>
<line x1="517" y1="142.4" x2="517" y2="172.14" stroke="#bdbdbd" stroke-width="0.8" stroke-dasharray="3,2"/>
<line x1="491.7" y1="145" x2="491.7" y2="193.15" stroke="#bdbdbd" stroke-width="0.8" stroke-dasharray="3,2"/>
<line x1="499.6" y1="147.7" x2="499.6" y2="192.12" stroke="#bdbdbd" stroke-width="0.8" stroke-dasharray="3,2"/>
<line x1="490.8" y1="159" x2="490.8" y2="191.71" stroke="#bdbdbd" stroke-width="0.8" stroke-dasharray="3,2"/>
<line x1="498.7" y1="170.4" x2="498.7" y2="191.02" stroke="#bdbdbd" stroke-width="0.8" stroke-dasharray="3,2"/>
<line x1="518" y1="174.8" x2="518" y2="183.56" stroke="#bdbdbd" stroke-width="0.8" stroke-dasharray="3,2"/>
<line x1="532" y1="175.7" x2="532" y2="181.7" stroke="#bdbdbd" stroke-width="0.8" stroke-dasharray="3,2"/>
<line x1="510" y1="150" x2="510" y2="189.41" stroke="#bdbdbd" stroke-width="0.8" stroke-dasharray="3,2"/>
<line x1="505" y1="156" x2="505" y2="195.49" stroke="#bdbdbd" stroke-width="0.8" stroke-dasharray="3,2"/>
<line x1="520" y1="160" x2="520" y2="185.16" stroke="#bdbdbd" stroke-width="0.8" stroke-dasharray="3,2"/>
<line x1="511" y1="174" x2="511" y2="186.85" stroke="#bdbdbd" stroke-width="0.8" stroke-dasharray="3,2"/>
<line x1="540" y1="128" x2="540" y2="180.4" stroke="#bdbdbd" stroke-width="0.8" stroke-dasharray="3,2"/>
<line x1="540" y1="140" x2="540" y2="171.89" stroke="#bdbdbd" stroke-width="0.8" stroke-dasharray="3,2"/>
<line x1="526" y1="152" x2="526" y2="178.6" stroke="#bdbdbd" stroke-width="0.8" stroke-dasharray="3,2"/>
<line x1="557.8" y1="78.9" x2="557.8" y2="179" stroke="#bdbdbd" stroke-width="0.8" stroke-dasharray="3,2"/>
<line x1="571.5" y1="99.1" x2="571.5" y2="175.56" stroke="#bdbdbd" stroke-width="0.8" stroke-dasharray="3,2"/>
<line x1="571.8" y1="103.2" x2="571.8" y2="174.67" stroke="#bdbdbd" stroke-width="0.8" stroke-dasharray="3,2"/>
<line x1="567.1" y1="106.7" x2="567.1" y2="184.94" stroke="#bdbdbd" stroke-width="0.8" stroke-dasharray="3,2"/>
<line x1="551.7" y1="104.3" x2="551.7" y2="172.45" stroke="#bdbdbd" stroke-width="0.8" stroke-dasharray="3,2"/>
<line x1="552.3" y1="107.8" x2="552.3" y2="174.71" stroke="#bdbdbd" stroke-width="0.8" stroke-dasharray="3,2"/>
<line x1="549.9" y1="110.8" x2="549.9" y2="173.04" stroke="#bdbdbd" stroke-width="0.8" stroke-dasharray="3,2"/>
<line x1="571.5" y1="113.1" x2="571.5" y2="172.91" stroke="#bdbdbd" stroke-width="0.8" stroke-dasharray="3,2"/>
<line x1="579.7" y1="116.6" x2="579.7" y2="177.48" stroke="#bdbdbd" stroke-width="0.8" stroke-dasharray="3,2"/>
<line x1="594.3" y1="115.4" x2="594.3" y2="174.93" stroke="#bdbdbd" stroke-width="0.8" stroke-dasharray="3,2"/>
<line x1="552.3" y1="119.5" x2="552.3" y2="187.68" stroke="#bdbdbd" stroke-width="0.8" stroke-dasharray="3,2"/>
<line x1="559.9" y1="117.8" x2="559.9" y2="176.64" stroke="#bdbdbd" stroke-width="0.8" stroke-dasharray="3,2"/>
<line x1="561.6" y1="120.1" x2="561.6" y2="186.17" stroke="#bdbdbd" stroke-width="0.8" stroke-dasharray="3,2"/>
<line x1="568" y1="121.3" x2="568" y2="184.51" stroke="#bdbdbd" stroke-width="0.8" stroke-dasharray="3,2"/>
<line x1="572.7" y1="121.9" x2="572.7" y2="181.32" stroke="#bdbdbd" stroke-width="0.8" stroke-dasharray="3,2"/>
<line x1="575" y1="123" x2="575" y2="181.47" stroke="#bdbdbd" stroke-width="0.8" stroke-dasharray="3,2"/>
<line x1="577.4" y1="126" x2="577.4" y2="178.57" stroke="#bdbdbd" stroke-width="0.8" stroke-dasharray="3,2"/>
<line x1="580.3" y1="120.1" x2="580.3" y2="181.68" stroke="#bdbdbd" stroke-width="0.8" stroke-dasharray="3,2"/>
<line x1="583.2" y1="121.9" x2="583.2" y2="181.58" stroke="#bdbdbd" stroke-width="0.8" stroke-dasharray="3,2"/>
<line x1="589" y1="123" x2="589" y2="178.46" stroke="#bdbdbd" stroke-width="0.8" stroke-dasharray="3,2"/>
<line x1="545.3" y1="125.6" x2="545.3" y2="189.38" stroke="#bdbdbd" stroke-width="0.8" stroke-dasharray="3,2"/>
<line x1="566.3" y1="126.5" x2="566.3" y2="180.22" stroke="#bdbdbd" stroke-width="0.8" stroke-dasharray="3,2"/>
<line x1="558.7" y1="133" x2="558.7" y2="187.54" stroke="#bdbdbd" stroke-width="0.8" stroke-dasharray="3,2"/>
<line x1="548.8" y1="133.5" x2="548.8" y2="173.11" stroke="#bdbdbd" stroke-width="0.8" stroke-dasharray="3,2"/>
<line x1="548.8" y1="137" x2="548.8" y2="178.31" stroke="#bdbdbd" stroke-width="0.8" stroke-dasharray="3,2"/>
<line x1="543.1" y1="117.4" x2="543.1" y2="188.9" stroke="#bdbdbd" stroke-width="0.8" stroke-dasharray="3,2"/>
<line x1="547.2" y1="125" x2="547.2" y2="185.86" stroke="#bdbdbd" stroke-width="0.8" stroke-dasharray="3,2"/>
<line x1="559.4" y1="133.2" x2="559.4" y2="181.72" stroke="#bdbdbd" stroke-width="0.8" stroke-dasharray="3,2"/>
<line x1="571.4" y1="133" x2="571.4" y2="179.31" stroke="#bdbdbd" stroke-width="0.8" stroke-dasharray="3,2"/>
<line x1="540" y1="111" x2="540" y2="190.17" stroke="#bdbdbd" stroke-width="0.8" stroke-dasharray="3,2"/>
<line x1="509.8" y1="146.5" x2="509.8" y2="176.01" stroke="#bdbdbd" stroke-width="0.8" stroke-dasharray="3,2"/>
<line x1="512.7" y1="139" x2="512.7" y2="171.96" stroke="#bdbdbd" stroke-width="0.8" stroke-dasharray="3,2"/>
<line x1="522" y1="137.2" x2="522" y2="184.02" stroke="#bdbdbd" stroke-width="0.8" stroke-dasharray="3,2"/>
<line x1="520.9" y1="151.2" x2="520.9" y2="183.59" stroke="#bdbdbd" stroke-width="0.8" stroke-dasharray="3,2"/>
<line x1="531.4" y1="143" x2="531.4" y2="193.06" stroke="#bdbdbd" stroke-width="0.8" stroke-dasharray="3,2"/>
<line x1="513.9" y1="158.2" x2="513.9" y2="192.89" stroke="#bdbdbd" stroke-width="0.8" stroke-dasharray="3,2"/>
<line x1="498.1" y1="170.5" x2="498.1" y2="188.87" stroke="#bdbdbd" stroke-width="0.8" stroke-dasharray="3,2"/>
<line x1="518.5" y1="174.6" x2="518.5" y2="188.88" stroke="#bdbdbd" stroke-width="0.8" stroke-dasharray="3,2"/>
<line x1="525.5" y1="170.5" x2="525.5" y2="176.5" stroke="#bdbdbd" stroke-width="0.8" stroke-dasharray="3,2"/>
<line x1="531.4" y1="172.8" x2="531.4" y2="191.25" stroke="#bdbdbd" stroke-width="0.8" stroke-dasharray="3,2"/>
<line x1="523.2" y1="131.9" x2="523.2" y2="194.72" stroke="#bdbdbd" stroke-width="0.8" stroke-dasharray="3,2"/>
<line x1="529" y1="132.5" x2="529" y2="172.3" stroke="#bdbdbd" stroke-width="0.8" stroke-dasharray="3,2"/>
<line x1="517.4" y1="142.4" x2="517.4" y2="182.52" stroke="#bdbdbd" stroke-width="0.8" stroke-dasharray="3,2"/>
<line x1="529" y1="148.9" x2="529" y2="191.74" stroke="#bdbdbd" stroke-width="0.8" stroke-dasharray="3,2"/>
<line x1="515.3" y1="35.2" x2="515.3" y2="168.1" stroke="#111" stroke-width="1"/>
<line x1="515.3" y1="168.1" x2="634.8" y2="168.1" stroke="#111" stroke-width="1"/>
<line x1="411.3" y1="198.3" x2="515.3" y2="168.1" stroke="#111" stroke-width="1"/>
<circle cx="504.5" cy="54.5" r="3.25" stroke="#ff0000" stroke-width="1.1" fill="none"/>
<text transform="translate(513.7,57.2)" font-family="Liberation Sans" font-size="7.6" fill="#ff0000" text-anchor="start" font-weight="normal">57</text>
<circle cx="495.8" cy="66" r="3.25" stroke="#ff0000" stroke-width="1.1" fill="none"/>
<text transform="translate(505,68.7)" font-family="Liberation Sans" font-size="7.6" fill="#ff0000" text-anchor="start" font-weight="normal">33</text>
<circle cx="500.9" cy="76.7" r="3.25" stroke="#00f4f4" stroke-width="1.1" fill="none"/>
<text transform="translate(510.1,79.4)" font-family="Liberation Sans" font-size="7.6" fill="#00f4f4" text-anchor="start" font-weight="normal">2</text>
<circle cx="478.5" cy="96.4" r="3.25" stroke="#00f4f4" stroke-width="1.1" fill="none"/>
<text transform="translate(487.7,99.1)" font-family="Liberation Sans" font-size="7.6" fill="#00f4f4" text-anchor="start" font-weight="normal">10</text>
<circle cx="531.4" cy="99.6" r="3.25" stroke="#ff0000" stroke-width="1.1" fill="none"/>
<text transform="translate(540.6,102.3)" font-family="Liberation Sans" font-size="7.6" fill="#ff0000" text-anchor="start" font-weight="normal">42</text>
<circle cx="519.1" cy="108.1" r="3.25" stroke="#ff0000" stroke-width="1.1" fill="none"/>
<text transform="translate(528.3,110.8)" font-family="Liberation Sans" font-size="7.6" fill="#ff0000" text-anchor="start" font-weight="normal">41</text>
<circle cx="529.1" cy="112.8" r="3.25" stroke="#ff0000" stroke-width="1.1" fill="none"/>
<text transform="translate(538.3,115.5)" font-family="Liberation Sans" font-size="7.6" fill="#ff0000" text-anchor="start" font-weight="normal">49</text>
<circle cx="505.1" cy="118.6" r="3.25" stroke="#00f4f4" stroke-width="1.1" fill="none"/>
<text transform="translate(514.3,121.3)" font-family="Liberation Sans" font-size="7.6" fill="#00f4f4" text-anchor="start" font-weight="normal">30</text>
<circle cx="527.9" cy="117.4" r="3.25" stroke="#00f4f4" stroke-width="1.1" fill="none"/>
<circle cx="534.9" cy="116.9" r="3.25" stroke="#00f4f4" stroke-width="1.1" fill="none"/>
<text transform="translate(544.1,119.6)" font-family="Liberation Sans" font-size="7.6" fill="#00f4f4" text-anchor="start" font-weight="normal">29</text>
<circle cx="521.5" cy="123.3" r="3.25" stroke="#ff0000" stroke-width="1.1" fill="none"/>
<text transform="translate(530.7,126)" font-family="Liberation Sans" font-size="7.6" fill="#ff0000" text-anchor="start" font-weight="normal">45</text>
<circle cx="522.6" cy="130.3" r="3.25" stroke="#ff0000" stroke-width="1.1" fill="none"/>
<text transform="translate(531.8,133)" font-family="Liberation Sans" font-size="7.6" fill="#ff0000" text-anchor="start" font-weight="normal">44</text>
<circle cx="512.1" cy="131.5" r="3.25" stroke="#00f4f4" stroke-width="1.1" fill="none"/>
<circle cx="503.4" cy="135.5" r="3.25" stroke="#00f4f4" stroke-width="1.1" fill="none"/>
<circle cx="498.7" cy="137.9" r="3.25" stroke="#00f4f4" stroke-width="1.1" fill="none"/>
<circle cx="492.3" cy="144.9" r="3.25" stroke="#00f4f4" stroke-width="1.1" fill="none"/>
<circle cx="515" cy="133.2" r="3.25" stroke="#00f4f4" stroke-width="1.1" fill="none"/>
<circle cx="519.7" cy="135.5" r="3.25" stroke="#00f4f4" stroke-width="1.1" fill="none"/>
<text transform="translate(528.9,138.2)" font-family="Liberation Sans" font-size="7.6" fill="#00f4f4" text-anchor="start" font-weight="normal">16</text>
<circle cx="524.4" cy="134.4" r="3.25" stroke="#00f4f4" stroke-width="1.1" fill="none"/>
<circle cx="532.6" cy="134.4" r="3.25" stroke="#00f4f4" stroke-width="1.1" fill="none"/>
<circle cx="534.9" cy="136.1" r="3.25" stroke="#00f4f4" stroke-width="1.1" fill="none"/>
<text transform="translate(544.1,138.8)" font-family="Liberation Sans" font-size="7.6" fill="#00f4f4" text-anchor="start" font-weight="normal">24</text>
<circle cx="516.2" cy="142.6" r="3.25" stroke="#ff0000" stroke-width="1.1" fill="none"/>
<circle cx="531.4" cy="141.4" r="3.25" stroke="#ff0000" stroke-width="1.1" fill="none"/>
<circle cx="529.3" cy="148.5" r="3.25" stroke="#ff0000" stroke-width="1.1" fill="none"/>
<text transform="translate(538.5,151.2)" font-family="Liberation Sans" font-size="7.6" fill="#ff0000" text-anchor="start" font-weight="normal">59</text>
<circle cx="517" cy="142.4" r="3.25" stroke="#ff0000" stroke-width="1.1" fill="none"/>
<text transform="translate(526.2,145.1)" font-family="Liberation Sans" font-size="7.6" fill="#ff0000" text-anchor="start" font-weight="normal">60</text>
<circle cx="491.7" cy="145" r="3.25" stroke="#00f4f4" stroke-width="1.1" fill="none"/>
<circle cx="499.6" cy="147.7" r="3.25" stroke="#00f4f4" stroke-width="1.1" fill="none"/>
<circle cx="490.8" cy="159" r="3.25" stroke="#00f4f4" stroke-width="1.1" fill="none"/>
<text transform="translate(500,161.7)" font-family="Liberation Sans" font-size="7.6" fill="#00f4f4" text-anchor="start" font-weight="normal">12</text>
<circle cx="498.7" cy="170.4" r="3.25" stroke="#00f4f4" stroke-width="1.1" fill="none"/>
<circle cx="518" cy="174.8" r="3.25" stroke="#00f4f4" stroke-width="1.1" fill="none"/>
<text transform="translate(527.2,177.5)" font-family="Liberation Sans" font-size="7.6" fill="#00f4f4" text-anchor="start" font-weight="normal">15</text>
<circle cx="532" cy="175.7" r="3.25" stroke="#00f4f4" stroke-width="1.1" fill="none"/>
<text transform="translate(541.2,178.4)" font-family="Liberation Sans" font-size="7.6" fill="#00f4f4" text-anchor="start" font-weight="normal">13</text>
<circle cx="510" cy="150" r="3.25" stroke="#00f4f4" stroke-width="1.1" fill="none"/>
<circle cx="505" cy="156" r="3.25" stroke="#00f4f4" stroke-width="1.1" fill="none"/>
<circle cx="520" cy="160" r="3.25" stroke="#00f4f4" stroke-width="1.1" fill="none"/>
<text transform="translate(529.2,162.7)" font-family="Liberation Sans" font-size="7.6" fill="#00f4f4" text-anchor="start" font-weight="normal">23</text>
<circle cx="511" cy="174" r="3.25" stroke="#00f4f4" stroke-width="1.1" fill="none"/>
<circle cx="540" cy="128" r="3.25" stroke="#00f4f4" stroke-width="1.1" fill="none"/>
<text transform="translate(549.2,130.7)" font-family="Liberation Sans" font-size="7.6" fill="#00f4f4" text-anchor="start" font-weight="normal">27</text>
<circle cx="540" cy="140" r="3.25" stroke="#00f4f4" stroke-width="1.1" fill="none"/>
<text transform="translate(549.2,142.7)" font-family="Liberation Sans" font-size="7.6" fill="#00f4f4" text-anchor="start" font-weight="normal">17</text>
<circle cx="526" cy="152" r="3.25" stroke="#00f4f4" stroke-width="1.1" fill="none"/>
<circle cx="557.8" cy="78.9" r="3.25" stroke="#ff0000" stroke-width="1.1" fill="none"/>
<text transform="translate(567,81.6)" font-family="Liberation Sans" font-size="7.6" fill="#ff0000" text-anchor="start" font-weight="normal">35</text>
<circle cx="571.5" cy="99.1" r="3.25" stroke="#00f4f4" stroke-width="1.1" fill="none"/>
<text transform="translate(580.7,101.8)" font-family="Liberation Sans" font-size="7.6" fill="#00f4f4" text-anchor="start" font-weight="normal">9</text>
<circle cx="571.8" cy="103.2" r="3.25" stroke="#ff0000" stroke-width="1.1" fill="none"/>
<text transform="translate(581,105.9)" font-family="Liberation Sans" font-size="7.6" fill="#ff0000" text-anchor="start" font-weight="normal">55</text>
<circle cx="567.1" cy="106.7" r="3.25" stroke="#ff0000" stroke-width="1.1" fill="none"/>
<text transform="translate(576.3,109.4)" font-family="Liberation Sans" font-size="7.6" fill="#ff0000" text-anchor="start" font-weight="normal">38</text>
<circle cx="551.7" cy="104.3" r="3.25" stroke="#ff0000" stroke-width="1.1" fill="none"/>
<text transform="translate(560.9,107)" font-family="Liberation Sans" font-size="7.6" fill="#ff0000" text-anchor="start" font-weight="normal">46</text>
<circle cx="552.3" cy="107.8" r="3.25" stroke="#ff0000" stroke-width="1.1" fill="none"/>
<circle cx="549.9" cy="110.8" r="3.25" stroke="#00f4f4" stroke-width="1.1" fill="none"/>
<text transform="translate(559.1,113.5)" font-family="Liberation Sans" font-size="7.6" fill="#00f4f4" text-anchor="start" font-weight="normal">21</text>
<circle cx="571.5" cy="113.1" r="3.25" stroke="#ff0000" stroke-width="1.1" fill="none"/>
<text transform="translate(580.7,115.8)" font-family="Liberation Sans" font-size="7.6" fill="#ff0000" text-anchor="start" font-weight="normal">56</text>
<circle cx="579.7" cy="116.6" r="3.25" stroke="#ff0000" stroke-width="1.1" fill="none"/>
<circle cx="594.3" cy="115.4" r="3.25" stroke="#ff0000" stroke-width="1.1" fill="none"/>
<text transform="translate(603.5,118.1)" font-family="Liberation Sans" font-size="7.6" fill="#ff0000" text-anchor="start" font-weight="normal">47</text>
<circle cx="552.3" cy="119.5" r="3.25" stroke="#ff0000" stroke-width="1.1" fill="none"/>
<circle cx="559.9" cy="117.8" r="3.25" stroke="#ff0000" stroke-width="1.1" fill="none"/>
<circle cx="561.6" cy="120.1" r="3.25" stroke="#ff0000" stroke-width="1.1" fill="none"/>
<circle cx="568" cy="121.3" r="3.25" stroke="#ff0000" stroke-width="1.1" fill="none"/>
<circle cx="572.7" cy="121.9" r="3.25" stroke="#ff0000" stroke-width="1.1" fill="none"/>
<circle cx="575" cy="123" r="3.25" stroke="#ff0000" stroke-width="1.1" fill="none"/>
<circle cx="577.4" cy="126" r="3.25" stroke="#ff0000" stroke-width="1.1" fill="none"/>
<text transform="translate(586.6,128.7)" font-family="Liberation Sans" font-size="7.6" fill="#ff0000" text-anchor="start" font-weight="normal">53</text>
<circle cx="580.3" cy="120.1" r="3.25" stroke="#ff0000" stroke-width="1.1" fill="none"/>
<circle cx="583.2" cy="121.9" r="3.25" stroke="#ff0000" stroke-width="1.1" fill="none"/>
<text transform="translate(592.4,124.6)" font-family="Liberation Sans" font-size="7.6" fill="#ff0000" text-anchor="start" font-weight="normal">52</text>
<circle cx="589" cy="123" r="3.25" stroke="#ff0000" stroke-width="1.1" fill="none"/>
<circle cx="545.3" cy="125.6" r="3.25" stroke="#ff0000" stroke-width="1.1" fill="none"/>
<circle cx="566.3" cy="126.5" r="3.25" stroke="#ff0000" stroke-width="1.1" fill="none"/>
<circle cx="558.7" cy="133" r="3.25" stroke="#ff0000" stroke-width="1.1" fill="none"/>
<text transform="translate(567.9,135.7)" font-family="Liberation Sans" font-size="7.6" fill="#ff0000" text-anchor="start" font-weight="normal">62</text>
<circle cx="548.8" cy="133.5" r="3.25" stroke="#ff0000" stroke-width="1.1" fill="none"/>
<circle cx="548.8" cy="137" r="3.25" stroke="#ff0000" stroke-width="1.1" fill="none"/>
<circle cx="543.1" cy="117.4" r="3.25" stroke="#ff0000" stroke-width="1.1" fill="none"/>
<circle cx="547.2" cy="125" r="3.25" stroke="#ff0000" stroke-width="1.1" fill="none"/>
<circle cx="559.4" cy="133.2" r="3.25" stroke="#ff0000" stroke-width="1.1" fill="none"/>
<text transform="translate(568.6,135.9)" font-family="Liberation Sans" font-size="7.6" fill="#ff0000" text-anchor="start" font-weight="normal">61</text>
<circle cx="571.4" cy="133" r="3.25" stroke="#ff0000" stroke-width="1.1" fill="none"/>
<circle cx="540" cy="111" r="3.25" stroke="#ff0000" stroke-width="1.1" fill="none"/>
<circle cx="509.8" cy="146.5" r="3.25" stroke="#00f4f4" stroke-width="1.1" fill="none"/>
<circle cx="512.7" cy="139" r="3.25" stroke="#00f4f4" stroke-width="1.1" fill="none"/>
<circle cx="522" cy="137.2" r="3.25" stroke="#00f4f4" stroke-width="1.1" fill="none"/>
<circle cx="520.9" cy="151.2" r="3.25" stroke="#00f4f4" stroke-width="1.1" fill="none"/>
<circle cx="531.4" cy="143" r="3.25" stroke="#00f4f4" stroke-width="1.1" fill="none"/>
<circle cx="513.9" cy="158.2" r="3.25" stroke="#00f4f4" stroke-width="1.1" fill="none"/>
<circle cx="498.1" cy="170.5" r="3.25" stroke="#00f4f4" stroke-width="1.1" fill="none"/>
<circle cx="518.5" cy="174.6" r="3.25" stroke="#00f4f4" stroke-width="1.1" fill="none"/>
<circle cx="525.5" cy="170.5" r="3.25" stroke="#00f4f4" stroke-width="1.1" fill="none"/>
<circle cx="531.4" cy="172.8" r="3.25" stroke="#00f4f4" stroke-width="1.1" fill="none"/>
<circle cx="523.2" cy="131.9" r="3.25" stroke="#00f4f4" stroke-width="1.1" fill="none"/>
<circle cx="529" cy="132.5" r="3.25" stroke="#00f4f4" stroke-width="1.1" fill="none"/>
<circle cx="517.4" cy="142.4" r="3.25" stroke="#ff0000" stroke-width="1.1" fill="none"/>
<circle cx="529" cy="148.9" r="3.25" stroke="#ff0000" stroke-width="1.1" fill="none"/>
<line x1="411.3" y1="65.4" x2="411.3" y2="198.3" stroke="#111" stroke-width="1.1"/>
<line x1="411.3" y1="198.3" x2="530.8" y2="198.3" stroke="#111" stroke-width="1.1"/>
<line x1="530.8" y1="65.4" x2="530.8" y2="198.3" stroke="#111" stroke-width="1.1"/>
<line x1="411.3" y1="65.4" x2="530.8" y2="65.4" stroke="#111" stroke-width="1.1"/>
<line x1="411.3" y1="65.4" x2="515.3" y2="35.2" stroke="#111" stroke-width="1"/>
<line x1="515.3" y1="35.2" x2="634.8" y2="35.2" stroke="#111" stroke-width="1"/>
<line x1="530.8" y1="65.4" x2="634.8" y2="35.2" stroke="#111" stroke-width="1"/>
<line x1="634.8" y1="35.2" x2="634.8" y2="168.1" stroke="#444" stroke-width="1.3"/>
<line x1="530.8" y1="198.3" x2="634.8" y2="168.1" stroke="#111" stroke-width="1.1"/>
<line x1="411.4" y1="198.3" x2="411.4" y2="200.7" stroke="#111" stroke-width="1.6"/>
<line x1="435.28" y1="198.3" x2="435.28" y2="200.7" stroke="#111" stroke-width="1.6"/>
<line x1="459.16" y1="198.3" x2="459.16" y2="200.7" stroke="#111" stroke-width="1.6"/>
<line x1="483.04" y1="198.3" x2="483.04" y2="200.7" stroke="#111" stroke-width="1.6"/>
<line x1="506.92" y1="198.3" x2="506.92" y2="200.7" stroke="#111" stroke-width="1.6"/>
<line x1="530.8" y1="198.3" x2="530.8" y2="200.7" stroke="#111" stroke-width="1.6"/>
<line x1="409.8" y1="65.3" x2="412.8" y2="65.3" stroke="#111" stroke-width="1"/>
<line x1="409.8" y1="84.3" x2="412.8" y2="84.3" stroke="#111" stroke-width="1"/>
<line x1="409.8" y1="103.3" x2="412.8" y2="103.3" stroke="#111" stroke-width="1"/>
<line x1="409.8" y1="122.3" x2="412.8" y2="122.3" stroke="#111" stroke-width="1"/>
<line x1="409.8" y1="141.3" x2="412.8" y2="141.3" stroke="#111" stroke-width="1"/>
<line x1="409.8" y1="160.3" x2="412.8" y2="160.3" stroke="#111" stroke-width="1"/>
<line x1="409.8" y1="179.3" x2="412.8" y2="179.3" stroke="#111" stroke-width="1"/>
<line x1="409.8" y1="198.3" x2="412.8" y2="198.3" stroke="#111" stroke-width="1"/>
<text transform="translate(411.7,210.8)" font-family="Liberation Sans" font-size="12" fill="#222" text-anchor="middle" font-weight="normal">-30</text>
<text transform="translate(434.8,210.8)" font-family="Liberation Sans" font-size="12" fill="#222" text-anchor="middle" font-weight="normal">-20</text>
<text transform="translate(458.5,210.8)" font-family="Liberation Sans" font-size="12" fill="#222" text-anchor="middle" font-weight="normal">-10</text>
<text transform="translate(486,210.8)" font-family="Liberation Sans" font-size="12" fill="#222" text-anchor="middle" font-weight="normal">0</text>
<text transform="translate(508.3,210.8)" font-family="Liberation Sans" font-size="12" fill="#222" text-anchor="middle" font-weight="normal">10</text>
<text transform="translate(531.4,210.8)" font-family="Liberation Sans" font-size="12" fill="#222" text-anchor="middle" font-weight="normal">20</text>
<text transform="translate(407,58) rotate(-90) scale(1.24,1)" font-family="Liberation Sans" font-size="11.3" fill="#222" text-anchor="end" font-weight="normal">20</text>
<text transform="translate(407,77) rotate(-90) scale(1.24,1)" font-family="Liberation Sans" font-size="11.3" fill="#222" text-anchor="end" font-weight="normal">15</text>
<text transform="translate(407,96) rotate(-90) scale(1.24,1)" font-family="Liberation Sans" font-size="11.3" fill="#222" text-anchor="end" font-weight="normal">10</text>
<text transform="translate(407,115) rotate(-90) scale(1.24,1)" font-family="Liberation Sans" font-size="11.3" fill="#222" text-anchor="end" font-weight="normal">5</text>
<text transform="translate(407,134) rotate(-90) scale(1.24,1)" font-family="Liberation Sans" font-size="11.3" fill="#222" text-anchor="end" font-weight="normal">0</text>
<text transform="translate(407,153) rotate(-90) scale(1.24,1)" font-family="Liberation Sans" font-size="11.3" fill="#222" text-anchor="end" font-weight="normal">-5</text>
<text transform="translate(407,172) rotate(-90) scale(1.24,1)" font-family="Liberation Sans" font-size="11.3" fill="#222" text-anchor="end" font-weight="normal">-10</text>
<text transform="translate(407,191) rotate(-90) scale(1.24,1)" font-family="Liberation Sans" font-size="11.3" fill="#222" text-anchor="end" font-weight="normal">-15</text>
<text transform="translate(555,201.4)" font-family="Liberation Sans" font-size="11.2" fill="#222" text-anchor="middle" font-weight="normal">-15</text>
<text transform="translate(574.2,196.6)" font-family="Liberation Sans" font-size="11.2" fill="#222" text-anchor="middle" font-weight="normal">-10</text>
<text transform="translate(591,191.8)" font-family="Liberation Sans" font-size="11.2" fill="#222" text-anchor="middle" font-weight="normal">-5</text>
<text transform="translate(609,186.5)" font-family="Liberation Sans" font-size="11.2" fill="#222" text-anchor="middle" font-weight="normal">0</text>
<text transform="translate(626,181.7)" font-family="Liberation Sans" font-size="11.2" fill="#222" text-anchor="middle" font-weight="normal">5</text>
<text transform="translate(644,176)" font-family="Liberation Sans" font-size="11.2" fill="#222" text-anchor="middle" font-weight="normal">10</text>
<text transform="translate(661,171.3)" font-family="Liberation Sans" font-size="11.2" fill="#222" text-anchor="middle" font-weight="normal">15</text>
<circle cx="143.9" cy="8" r="2.1" stroke="#ff0000" stroke-width="1" fill="none"/>
<text transform="translate(150.6,11)" font-family="Liberation Sans" font-size="7.6" fill="#333" text-anchor="start" font-weight="normal" textLength="22.3" lengthAdjust="spacingAndGlyphs">control</text>
<circle cx="183.7" cy="8" r="2.1" stroke="#00f4f4" stroke-width="1" fill="none"/>
<text transform="translate(190.4,11)" font-family="Liberation Sans" font-size="7.6" fill="#333" text-anchor="start" font-weight="normal" textLength="26.6" lengthAdjust="spacingAndGlyphs">patients</text>
<circle cx="478.8" cy="2.9" r="2.1" stroke="#ff0000" stroke-width="1" fill="none"/>
<text transform="translate(485.1,5.9)" font-family="Liberation Sans" font-size="7.6" fill="#333" text-anchor="start" font-weight="normal" textLength="21.4" lengthAdjust="spacingAndGlyphs">control</text>
<circle cx="516.7" cy="2.9" r="2.1" stroke="#00f4f4" stroke-width="1" fill="none"/>
<text transform="translate(523.1,5.9)" font-family="Liberation Sans" font-size="7.6" fill="#333" text-anchor="start" font-weight="normal" textLength="25.7" lengthAdjust="spacingAndGlyphs">patients</text>
<text transform="translate(92,241.4)" font-family="Liberation Sans" font-size="14" fill="#222" text-anchor="start" font-weight="normal" textLength="81.8" lengthAdjust="spacingAndGlyphs">PC1 (7.76%)</text>
<text transform="translate(429.3,248.6)" font-family="Liberation Sans" font-size="14" fill="#222" text-anchor="start" font-weight="normal" textLength="78" lengthAdjust="spacingAndGlyphs">PC1 (7.98%)</text>
<text transform="translate(34.2,136) rotate(-90)" font-family="Liberation Sans" font-size="15" fill="#222" text-anchor="middle" font-weight="normal" textLength="85.4" lengthAdjust="spacingAndGlyphs">PC3 (5.55%)</text>
<text transform="translate(357,164.4) rotate(-90)" font-family="Liberation Sans" font-size="15" fill="#222" text-anchor="middle" font-weight="normal" textLength="84.1" lengthAdjust="spacingAndGlyphs">PC2 (6.85%)</text>
<text transform="translate(374.4,136.2) rotate(-90)" font-family="Liberation Sans" font-size="15" fill="#222" text-anchor="middle" font-weight="normal" textLength="89.3" lengthAdjust="spacingAndGlyphs">PC3 (6.53%)</text>
<text transform="translate(682.8,172.3) rotate(-90)" font-family="Liberation Sans" font-size="15" fill="#222" text-anchor="middle" font-weight="normal" textLength="88.3" lengthAdjust="spacingAndGlyphs">PC2 (6.76%)</text>
<clipPath id="clipC"><rect x="39.3" y="292.2" width="281.2" height="201"/></clipPath>
<g clip-path="url(#clipC)">
<line x1="160.2" y1="292.2" x2="160.2" y2="493.2" stroke="#cccccc" stroke-width="1.8"/>
<line x1="39.3" y1="380" x2="320.5" y2="380" stroke="#cccccc" stroke-width="1.8"/>
<ellipse cx="101.5" cy="389.5" rx="31" ry="90.3" stroke="#F8766D" stroke-width="1.2" fill="none" transform="rotate(-27.8 101.5 389.5)"/>
<ellipse cx="215.7" cy="358.1" rx="26.3" ry="77.4" stroke="#00BFC4" stroke-width="1.2" fill="none" transform="rotate(-44.3 215.7 358.1)"/>
<ellipse cx="80.7" cy="317.1" rx="2.6" ry="2.2" stroke="none" stroke-width="1" fill="#F8766D"/>
<ellipse cx="78.6" cy="333" rx="2.6" ry="2.2" stroke="none" stroke-width="1" fill="#F8766D"/>
<ellipse cx="79.5" cy="337.7" rx="2.6" ry="2.2" stroke="none" stroke-width="1" fill="#F8766D"/>
<ellipse cx="78" cy="355.9" rx="2.6" ry="2.2" stroke="none" stroke-width="1" fill="#F8766D"/>
<ellipse cx="62.3" cy="360.2" rx="2.6" ry="2.2" stroke="none" stroke-width="1" fill="#F8766D"/>
<ellipse cx="88.2" cy="362.7" rx="2.6" ry="2.2" stroke="none" stroke-width="1" fill="#F8766D"/>
<ellipse cx="88.9" cy="364.7" rx="2.6" ry="2.2" stroke="none" stroke-width="1" fill="#F8766D"/>
<ellipse cx="108.7" cy="364.3" rx="2.6" ry="2.2" stroke="none" stroke-width="1" fill="#F8766D"/>
<ellipse cx="95.4" cy="369.2" rx="2.6" ry="2.2" stroke="none" stroke-width="1" fill="#F8766D"/>
<ellipse cx="113.8" cy="369.2" rx="2.6" ry="2.2" stroke="none" stroke-width="1" fill="#F8766D"/>
<ellipse cx="90.3" cy="376.6" rx="2.6" ry="2.2" stroke="none" stroke-width="1" fill="#F8766D"/>
<ellipse cx="74.7" cy="380.6" rx="2.6" ry="2.2" stroke="none" stroke-width="1" fill="#F8766D"/>
<ellipse cx="80.1" cy="380" rx="2.6" ry="2.2" stroke="none" stroke-width="1" fill="#F8766D"/>
<ellipse cx="104.6" cy="379.8" rx="2.6" ry="2.2" stroke="none" stroke-width="1" fill="#F8766D"/>
<ellipse cx="100.5" cy="389.2" rx="2.6" ry="2.2" stroke="none" stroke-width="1" fill="#F8766D"/>
<ellipse cx="121.3" cy="388.4" rx="2.6" ry="2.2" stroke="none" stroke-width="1" fill="#F8766D"/>
<ellipse cx="115.6" cy="390.4" rx="2.6" ry="2.2" stroke="none" stroke-width="1" fill="#F8766D"/>
<ellipse cx="93.1" cy="394.1" rx="2.6" ry="2.2" stroke="none" stroke-width="1" fill="#F8766D"/>
<ellipse cx="105" cy="396.6" rx="2.6" ry="2.2" stroke="none" stroke-width="1" fill="#F8766D"/>
<ellipse cx="107.4" cy="402.3" rx="2.6" ry="2.2" stroke="none" stroke-width="1" fill="#F8766D"/>
<ellipse cx="112.7" cy="401.7" rx="2.6" ry="2.2" stroke="none" stroke-width="1" fill="#F8766D"/>
<ellipse cx="92.7" cy="409.9" rx="2.6" ry="2.2" stroke="none" stroke-width="1" fill="#F8766D"/>
<ellipse cx="93.7" cy="411.9" rx="2.6" ry="2.2" stroke="none" stroke-width="1" fill="#F8766D"/>
<ellipse cx="100.5" cy="425.2" rx="2.6" ry="2.2" stroke="none" stroke-width="1" fill="#F8766D"/>
<ellipse cx="114.2" cy="426.8" rx="2.6" ry="2.2" stroke="none" stroke-width="1" fill="#F8766D"/>
<ellipse cx="108" cy="431.3" rx="2.6" ry="2.2" stroke="none" stroke-width="1" fill="#F8766D"/>
<ellipse cx="133.2" cy="429.3" rx="2.6" ry="2.2" stroke="none" stroke-width="1" fill="#F8766D"/>
<ellipse cx="143.8" cy="425.6" rx="2.6" ry="2.2" stroke="none" stroke-width="1" fill="#F8766D"/>
<ellipse cx="100.9" cy="443.6" rx="2.6" ry="2.2" stroke="none" stroke-width="1" fill="#F8766D"/>
<ellipse cx="120.3" cy="442.6" rx="2.6" ry="2.2" stroke="none" stroke-width="1" fill="#F8766D"/>
<ellipse cx="156.5" cy="472.2" rx="2.6" ry="2.2" stroke="none" stroke-width="1" fill="#F8766D"/>
<ellipse cx="169.3" cy="467.5" rx="2.6" ry="2.2" stroke="none" stroke-width="1" fill="#F8766D"/>
<ellipse cx="88.5" cy="366.5" rx="2.6" ry="2.2" stroke="none" stroke-width="1" fill="#F8766D"/>
<ellipse cx="225.2" cy="329.4" rx="2.6" ry="2.2" stroke="none" stroke-width="1" fill="#00BFC4"/>
<ellipse cx="182.3" cy="332.5" rx="2.6" ry="2.2" stroke="none" stroke-width="1" fill="#00BFC4"/>
<ellipse cx="166.3" cy="333.9" rx="2.6" ry="2.2" stroke="none" stroke-width="1" fill="#00BFC4"/>
<ellipse cx="163.9" cy="335.4" rx="2.6" ry="2.2" stroke="none" stroke-width="1" fill="#00BFC4"/>
<ellipse cx="199" cy="337" rx="2.6" ry="2.2" stroke="none" stroke-width="1" fill="#00BFC4"/>
<ellipse cx="203" cy="338" rx="2.6" ry="2.2" stroke="none" stroke-width="1" fill="#00BFC4"/>
<ellipse cx="206" cy="339" rx="2.6" ry="2.2" stroke="none" stroke-width="1" fill="#00BFC4"/>
<ellipse cx="201" cy="340.5" rx="2.6" ry="2.2" stroke="none" stroke-width="1" fill="#00BFC4"/>
<ellipse cx="197" cy="340" rx="2.6" ry="2.2" stroke="none" stroke-width="1" fill="#00BFC4"/>
<ellipse cx="192.5" cy="347.8" rx="2.6" ry="2.2" stroke="none" stroke-width="1" fill="#00BFC4"/>
<ellipse cx="202.7" cy="344.8" rx="2.6" ry="2.2" stroke="none" stroke-width="1" fill="#00BFC4"/>
<ellipse cx="208.9" cy="351.3" rx="2.6" ry="2.2" stroke="none" stroke-width="1" fill="#00BFC4"/>
<ellipse cx="217" cy="354.4" rx="2.6" ry="2.2" stroke="none" stroke-width="1" fill="#00BFC4"/>
<ellipse cx="229.7" cy="357.4" rx="2.6" ry="2.2" stroke="none" stroke-width="1" fill="#00BFC4"/>
<ellipse cx="158.2" cy="359.5" rx="2.6" ry="2.2" stroke="none" stroke-width="1" fill="#00BFC4"/>
<ellipse cx="191.9" cy="362.6" rx="2.6" ry="2.2" stroke="none" stroke-width="1" fill="#00BFC4"/>
<ellipse cx="217.4" cy="363.6" rx="2.6" ry="2.2" stroke="none" stroke-width="1" fill="#00BFC4"/>
<ellipse cx="231.7" cy="362.6" rx="2.6" ry="2.2" stroke="none" stroke-width="1" fill="#00BFC4"/>
<ellipse cx="251.2" cy="364.6" rx="2.6" ry="2.2" stroke="none" stroke-width="1" fill="#00BFC4"/>
<ellipse cx="222.6" cy="365.6" rx="2.6" ry="2.2" stroke="none" stroke-width="1" fill="#00BFC4"/>
<ellipse cx="230.7" cy="368.7" rx="2.6" ry="2.2" stroke="none" stroke-width="1" fill="#00BFC4"/>
<ellipse cx="221.5" cy="371.7" rx="2.6" ry="2.2" stroke="none" stroke-width="1" fill="#00BFC4"/>
<ellipse cx="217.4" cy="374.8" rx="2.6" ry="2.2" stroke="none" stroke-width="1" fill="#00BFC4"/>
<ellipse cx="204.2" cy="376.4" rx="2.6" ry="2.2" stroke="none" stroke-width="1" fill="#00BFC4"/>
<ellipse cx="236.9" cy="381" rx="2.6" ry="2.2" stroke="none" stroke-width="1" fill="#00BFC4"/>
<ellipse cx="245.6" cy="378.9" rx="2.6" ry="2.2" stroke="none" stroke-width="1" fill="#00BFC4"/>
<ellipse cx="231.7" cy="387.7" rx="2.6" ry="2.2" stroke="none" stroke-width="1" fill="#00BFC4"/>
<ellipse cx="238.3" cy="389.7" rx="2.6" ry="2.2" stroke="none" stroke-width="1" fill="#00BFC4"/>
<ellipse cx="237.9" cy="401" rx="2.6" ry="2.2" stroke="none" stroke-width="1" fill="#00BFC4"/>
<ellipse cx="293.2" cy="484.3" rx="2.6" ry="2.2" stroke="none" stroke-width="1" fill="#00BFC4"/>
<ellipse cx="307.6" cy="484.3" rx="2.6" ry="2.2" stroke="none" stroke-width="1" fill="#00BFC4"/>
<ellipse cx="229" cy="366" rx="2.6" ry="2.2" stroke="none" stroke-width="1" fill="#00BFC4"/>
<text transform="translate(83.1,321.2) scale(1.22,1)" font-family="Liberation Sans" font-size="10.3" fill="#F8766D" text-anchor="start" font-weight="normal">36</text>
<text transform="translate(81,337.1) scale(1.22,1)" font-family="Liberation Sans" font-size="10.3" fill="#F8766D" text-anchor="start" font-weight="normal">62</text>
<text transform="translate(81.9,341.8) scale(1.22,1)" font-family="Liberation Sans" font-size="10.3" fill="#F8766D" text-anchor="start" font-weight="normal">37</text>
<text transform="translate(80.4,360) scale(1.22,1)" font-family="Liberation Sans" font-size="10.3" fill="#F8766D" text-anchor="start" font-weight="normal">54</text>
<text transform="translate(64.7,364.3) scale(1.22,1)" font-family="Liberation Sans" font-size="10.3" fill="#F8766D" text-anchor="start" font-weight="normal">47</text>
<text transform="translate(90.6,366.8) scale(1.22,1)" font-family="Liberation Sans" font-size="10.3" fill="#F8766D" text-anchor="start" font-weight="normal">35</text>
<text transform="translate(91.3,368.8) scale(1.22,1)" font-family="Liberation Sans" font-size="10.3" fill="#F8766D" text-anchor="start" font-weight="normal">63</text>
<text transform="translate(111.1,368.4) scale(1.22,1)" font-family="Liberation Sans" font-size="10.3" fill="#F8766D" text-anchor="start" font-weight="normal">39</text>
<text transform="translate(97.8,373.3) scale(1.22,1)" font-family="Liberation Sans" font-size="10.3" fill="#F8766D" text-anchor="start" font-weight="normal">56</text>
<text transform="translate(116.2,373.3) scale(1.22,1)" font-family="Liberation Sans" font-size="10.3" fill="#F8766D" text-anchor="start" font-weight="normal">58</text>
<text transform="translate(92.7,380.7) scale(1.22,1)" font-family="Liberation Sans" font-size="10.3" fill="#F8766D" text-anchor="start" font-weight="normal">51</text>
<text transform="translate(77.1,384.7) scale(1.22,1)" font-family="Liberation Sans" font-size="10.3" fill="#F8766D" text-anchor="start" font-weight="normal">48</text>
<text transform="translate(82.5,384.1) scale(1.22,1)" font-family="Liberation Sans" font-size="10.3" fill="#F8766D" text-anchor="start" font-weight="normal">61</text>
<text transform="translate(107,383.9) scale(1.22,1)" font-family="Liberation Sans" font-size="10.3" fill="#F8766D" text-anchor="start" font-weight="normal">55</text>
<text transform="translate(102.9,393.3) scale(1.22,1)" font-family="Liberation Sans" font-size="10.3" fill="#F8766D" text-anchor="start" font-weight="normal">50</text>
<text transform="translate(123.7,392.5) scale(1.22,1)" font-family="Liberation Sans" font-size="10.3" fill="#F8766D" text-anchor="start" font-weight="normal">59</text>
<text transform="translate(118,394.5) scale(1.22,1)" font-family="Liberation Sans" font-size="10.3" fill="#F8766D" text-anchor="start" font-weight="normal">53</text>
<text transform="translate(95.5,398.2) scale(1.22,1)" font-family="Liberation Sans" font-size="10.3" fill="#F8766D" text-anchor="start" font-weight="normal">38</text>
<text transform="translate(107.4,400.7) scale(1.22,1)" font-family="Liberation Sans" font-size="10.3" fill="#F8766D" text-anchor="start" font-weight="normal">46</text>
<text transform="translate(109.8,406.4) scale(1.22,1)" font-family="Liberation Sans" font-size="10.3" fill="#F8766D" text-anchor="start" font-weight="normal">40</text>
<text transform="translate(115.1,405.8) scale(1.22,1)" font-family="Liberation Sans" font-size="10.3" fill="#F8766D" text-anchor="start" font-weight="normal">52</text>
<text transform="translate(95.1,414) scale(1.22,1)" font-family="Liberation Sans" font-size="10.3" fill="#F8766D" text-anchor="start" font-weight="normal">64</text>
<text transform="translate(96.1,416) scale(1.22,1)" font-family="Liberation Sans" font-size="10.3" fill="#F8766D" text-anchor="start" font-weight="normal">49</text>
<text transform="translate(102.9,429.3) scale(1.22,1)" font-family="Liberation Sans" font-size="10.3" fill="#F8766D" text-anchor="start" font-weight="normal">42</text>
<text transform="translate(116.6,430.9) scale(1.22,1)" font-family="Liberation Sans" font-size="10.3" fill="#F8766D" text-anchor="start" font-weight="normal">44</text>
<text transform="translate(110.4,435.4) scale(1.22,1)" font-family="Liberation Sans" font-size="10.3" fill="#F8766D" text-anchor="start" font-weight="normal">43</text>
<text transform="translate(135.6,433.4) scale(1.22,1)" font-family="Liberation Sans" font-size="10.3" fill="#F8766D" text-anchor="start" font-weight="normal">41</text>
<text transform="translate(146.2,429.7) scale(1.22,1)" font-family="Liberation Sans" font-size="10.3" fill="#F8766D" text-anchor="start" font-weight="normal">60</text>
<text transform="translate(103.3,447.7) scale(1.22,1)" font-family="Liberation Sans" font-size="10.3" fill="#F8766D" text-anchor="start" font-weight="normal">33</text>
<text transform="translate(122.7,446.7) scale(1.22,1)" font-family="Liberation Sans" font-size="10.3" fill="#F8766D" text-anchor="start" font-weight="normal">34</text>
<text transform="translate(158.9,476.3) scale(1.22,1)" font-family="Liberation Sans" font-size="10.3" fill="#F8766D" text-anchor="start" font-weight="normal">45</text>
<text transform="translate(171.7,471.6) scale(1.22,1)" font-family="Liberation Sans" font-size="10.3" fill="#F8766D" text-anchor="start" font-weight="normal">57</text>
<text transform="translate(90.9,370.6) scale(1.22,1)" font-family="Liberation Sans" font-size="10.3" fill="#F8766D" text-anchor="start" font-weight="normal">65</text>
<text transform="translate(227.6,333.5) scale(1.22,1)" font-family="Liberation Sans" font-size="10.3" fill="#00BFC4" text-anchor="start" font-weight="normal">28</text>
<text transform="translate(184.7,336.6) scale(1.22,1)" font-family="Liberation Sans" font-size="10.3" fill="#00BFC4" text-anchor="start" font-weight="normal">20</text>
<text transform="translate(168.7,338) scale(1.22,1)" font-family="Liberation Sans" font-size="10.3" fill="#00BFC4" text-anchor="start" font-weight="normal">9</text>
<text transform="translate(166.3,339.5) scale(1.22,1)" font-family="Liberation Sans" font-size="10.3" fill="#00BFC4" text-anchor="start" font-weight="normal">21</text>
<text transform="translate(201.4,341.1) scale(1.22,1)" font-family="Liberation Sans" font-size="10.3" fill="#00BFC4" text-anchor="start" font-weight="normal">13</text>
<text transform="translate(205.4,342.1) scale(1.22,1)" font-family="Liberation Sans" font-size="10.3" fill="#00BFC4" text-anchor="start" font-weight="normal">8</text>
<text transform="translate(208.4,343.1) scale(1.22,1)" font-family="Liberation Sans" font-size="10.3" fill="#00BFC4" text-anchor="start" font-weight="normal">5</text>
<text transform="translate(203.4,344.6) scale(1.22,1)" font-family="Liberation Sans" font-size="10.3" fill="#00BFC4" text-anchor="start" font-weight="normal">16</text>
<text transform="translate(199.4,344.1) scale(1.22,1)" font-family="Liberation Sans" font-size="10.3" fill="#00BFC4" text-anchor="start" font-weight="normal">2</text>
<text transform="translate(194.9,351.9) scale(1.22,1)" font-family="Liberation Sans" font-size="10.3" fill="#00BFC4" text-anchor="start" font-weight="normal">3</text>
<text transform="translate(205.1,348.9) scale(1.22,1)" font-family="Liberation Sans" font-size="10.3" fill="#00BFC4" text-anchor="start" font-weight="normal">31</text>
<text transform="translate(211.3,355.4) scale(1.22,1)" font-family="Liberation Sans" font-size="10.3" fill="#00BFC4" text-anchor="start" font-weight="normal">27</text>
<text transform="translate(219.4,358.5) scale(1.22,1)" font-family="Liberation Sans" font-size="10.3" fill="#00BFC4" text-anchor="start" font-weight="normal">24</text>
<text transform="translate(232.1,361.5) scale(1.22,1)" font-family="Liberation Sans" font-size="10.3" fill="#00BFC4" text-anchor="start" font-weight="normal">18</text>
<text transform="translate(160.6,363.6) scale(1.22,1)" font-family="Liberation Sans" font-size="10.3" fill="#00BFC4" text-anchor="start" font-weight="normal">1</text>
<text transform="translate(194.3,366.7) scale(1.22,1)" font-family="Liberation Sans" font-size="10.3" fill="#00BFC4" text-anchor="start" font-weight="normal">22</text>
<text transform="translate(219.8,367.7) scale(1.22,1)" font-family="Liberation Sans" font-size="10.3" fill="#00BFC4" text-anchor="start" font-weight="normal">14</text>
<text transform="translate(234.1,366.7) scale(1.22,1)" font-family="Liberation Sans" font-size="10.3" fill="#00BFC4" text-anchor="start" font-weight="normal">26</text>
<text transform="translate(253.6,368.7) scale(1.22,1)" font-family="Liberation Sans" font-size="10.3" fill="#00BFC4" text-anchor="start" font-weight="normal">11</text>
<text transform="translate(225,369.7) scale(1.22,1)" font-family="Liberation Sans" font-size="10.3" fill="#00BFC4" text-anchor="start" font-weight="normal">15</text>
<text transform="translate(233.1,372.8) scale(1.22,1)" font-family="Liberation Sans" font-size="10.3" fill="#00BFC4" text-anchor="start" font-weight="normal">4</text>
<text transform="translate(223.9,375.8) scale(1.22,1)" font-family="Liberation Sans" font-size="10.3" fill="#00BFC4" text-anchor="start" font-weight="normal">17</text>
<text transform="translate(219.8,378.9) scale(1.22,1)" font-family="Liberation Sans" font-size="10.3" fill="#00BFC4" text-anchor="start" font-weight="normal">6</text>
<text transform="translate(206.6,380.5) scale(1.22,1)" font-family="Liberation Sans" font-size="10.3" fill="#00BFC4" text-anchor="start" font-weight="normal">25</text>
<text transform="translate(239.3,385.1) scale(1.22,1)" font-family="Liberation Sans" font-size="10.3" fill="#00BFC4" text-anchor="start" font-weight="normal">7</text>
<text transform="translate(248,383) scale(1.22,1)" font-family="Liberation Sans" font-size="10.3" fill="#00BFC4" text-anchor="start" font-weight="normal">19</text>
<text transform="translate(234.1,391.8) scale(1.22,1)" font-family="Liberation Sans" font-size="10.3" fill="#00BFC4" text-anchor="start" font-weight="normal">29</text>
<text transform="translate(240.7,393.8) scale(1.22,1)" font-family="Liberation Sans" font-size="10.3" fill="#00BFC4" text-anchor="start" font-weight="normal">30</text>
<text transform="translate(240.3,405.1) scale(1.22,1)" font-family="Liberation Sans" font-size="10.3" fill="#00BFC4" text-anchor="start" font-weight="normal">12</text>
<text transform="translate(295.6,488.4) scale(1.22,1)" font-family="Liberation Sans" font-size="10.3" fill="#00BFC4" text-anchor="start" font-weight="normal">10</text>
<text transform="translate(310,488.4) scale(1.22,1)" font-family="Liberation Sans" font-size="10.3" fill="#00BFC4" text-anchor="start" font-weight="normal">32</text>
<text transform="translate(231.4,370.1) scale(1.22,1)" font-family="Liberation Sans" font-size="10.3" fill="#00BFC4" text-anchor="start" font-weight="normal">23</text>
</g>
<rect x="39.3" y="292.2" width="281.2" height="201" fill="none" stroke="#666" stroke-width="1.2" rx="0" ry="0"/>
<line x1="73.5" y1="493.2" x2="73.5" y2="496.4" stroke="#666" stroke-width="1.2"/>
<text transform="translate(73.5,505.2) scale(1.2,1)" font-family="Liberation Sans" font-size="8.7" fill="#4d4d4d" text-anchor="middle" font-weight="normal">−10</text>
<line x1="160.3" y1="493.2" x2="160.3" y2="496.4" stroke="#666" stroke-width="1.2"/>
<text transform="translate(160.3,505.2) scale(1.2,1)" font-family="Liberation Sans" font-size="8.7" fill="#4d4d4d" text-anchor="middle" font-weight="normal">0</text>
<line x1="247.1" y1="493.2" x2="247.1" y2="496.4" stroke="#666" stroke-width="1.2"/>
<text transform="translate(247.1,505.2) scale(1.2,1)" font-family="Liberation Sans" font-size="8.7" fill="#4d4d4d" text-anchor="middle" font-weight="normal">10</text>
<line x1="35.7" y1="315.3" x2="39.3" y2="315.3" stroke="#666" stroke-width="1.2"/>
<text transform="translate(34.3,318.4) scale(1.2,1)" font-family="Liberation Sans" font-size="8.7" fill="#4d4d4d" text-anchor="end" font-weight="normal">10</text>
<line x1="35.7" y1="380" x2="39.3" y2="380" stroke="#666" stroke-width="1.2"/>
<text transform="translate(34.3,383.1) scale(1.2,1)" font-family="Liberation Sans" font-size="8.7" fill="#4d4d4d" text-anchor="end" font-weight="normal">0</text>
<line x1="35.7" y1="444.7" x2="39.3" y2="444.7" stroke="#666" stroke-width="1.2"/>
<text transform="translate(34.3,447.8) scale(1.2,1)" font-family="Liberation Sans" font-size="8.7" fill="#4d4d4d" text-anchor="end" font-weight="normal">−10</text>
<clipPath id="clipD"><rect x="388.5" y="294.5" width="275.7" height="199"/></clipPath>
<g clip-path="url(#clipD)">
<line x1="511.4" y1="294.5" x2="511.4" y2="493.5" stroke="#bbbbbb" stroke-width="1"/>
<line x1="388.5" y1="406.1" x2="664.2" y2="406.1" stroke="#bbbbbb" stroke-width="1"/>
<ellipse cx="455.2" cy="416" rx="31.8" ry="78.9" stroke="#F8766D" stroke-width="1.2" fill="none" transform="rotate(-36.8 455.2 416)"/>
<ellipse cx="566.9" cy="394.1" rx="30" ry="81.4" stroke="#00BFC4" stroke-width="1.2" fill="none" transform="rotate(-47.4 566.9 394.1)"/>
<ellipse cx="450.3" cy="362.6" rx="2.6" ry="2.2" stroke="none" stroke-width="1" fill="#F8766D"/>
<ellipse cx="443.5" cy="369.1" rx="2.6" ry="2.2" stroke="none" stroke-width="1" fill="#F8766D"/>
<ellipse cx="400.8" cy="374.6" rx="2.6" ry="2.2" stroke="none" stroke-width="1" fill="#F8766D"/>
<ellipse cx="439.1" cy="380.1" rx="2.6" ry="2.2" stroke="none" stroke-width="1" fill="#F8766D"/>
<ellipse cx="438" cy="380.9" rx="2.6" ry="2.2" stroke="none" stroke-width="1" fill="#F8766D"/>
<ellipse cx="434.9" cy="385.5" rx="2.6" ry="2.2" stroke="none" stroke-width="1" fill="#F8766D"/>
<ellipse cx="423.3" cy="397.4" rx="2.6" ry="2.2" stroke="none" stroke-width="1" fill="#F8766D"/>
<ellipse cx="440.8" cy="397.6" rx="2.6" ry="2.2" stroke="none" stroke-width="1" fill="#F8766D"/>
<ellipse cx="428.8" cy="402" rx="2.6" ry="2.2" stroke="none" stroke-width="1" fill="#F8766D"/>
<ellipse cx="438.6" cy="400.2" rx="2.6" ry="2.2" stroke="none" stroke-width="1" fill="#F8766D"/>
<ellipse cx="469.3" cy="402.4" rx="2.6" ry="2.2" stroke="none" stroke-width="1" fill="#F8766D"/>
<ellipse cx="462.7" cy="403.9" rx="2.6" ry="2.2" stroke="none" stroke-width="1" fill="#F8766D"/>
<ellipse cx="462.7" cy="406.1" rx="2.6" ry="2.2" stroke="none" stroke-width="1" fill="#F8766D"/>
<ellipse cx="485.3" cy="413.4" rx="2.6" ry="2.2" stroke="none" stroke-width="1" fill="#F8766D"/>
<ellipse cx="434.3" cy="413.4" rx="2.6" ry="2.2" stroke="none" stroke-width="1" fill="#F8766D"/>
<ellipse cx="436" cy="413" rx="2.6" ry="2.2" stroke="none" stroke-width="1" fill="#F8766D"/>
<ellipse cx="441.5" cy="416.6" rx="2.6" ry="2.2" stroke="none" stroke-width="1" fill="#F8766D"/>
<ellipse cx="459.4" cy="420.6" rx="2.6" ry="2.2" stroke="none" stroke-width="1" fill="#F8766D"/>
<ellipse cx="447.4" cy="423.9" rx="2.6" ry="2.2" stroke="none" stroke-width="1" fill="#F8766D"/>
<ellipse cx="455.1" cy="424.3" rx="2.6" ry="2.2" stroke="none" stroke-width="1" fill="#F8766D"/>
<ellipse cx="461.6" cy="424.3" rx="2.6" ry="2.2" stroke="none" stroke-width="1" fill="#F8766D"/>
<ellipse cx="473.7" cy="430.9" rx="2.6" ry="2.2" stroke="none" stroke-width="1" fill="#F8766D"/>
<ellipse cx="484.6" cy="435.9" rx="2.6" ry="2.2" stroke="none" stroke-width="1" fill="#F8766D"/>
<ellipse cx="450.7" cy="437.9" rx="2.6" ry="2.2" stroke="none" stroke-width="1" fill="#F8766D"/>
<ellipse cx="458.4" cy="439.6" rx="2.6" ry="2.2" stroke="none" stroke-width="1" fill="#F8766D"/>
<ellipse cx="478.1" cy="445.5" rx="2.6" ry="2.2" stroke="none" stroke-width="1" fill="#F8766D"/>
<ellipse cx="500.6" cy="445.5" rx="2.6" ry="2.2" stroke="none" stroke-width="1" fill="#F8766D"/>
<ellipse cx="450.7" cy="451" rx="2.6" ry="2.2" stroke="none" stroke-width="1" fill="#F8766D"/>
<ellipse cx="487.3" cy="462" rx="2.6" ry="2.2" stroke="none" stroke-width="1" fill="#F8766D"/>
<ellipse cx="474.3" cy="464.8" rx="2.6" ry="2.2" stroke="none" stroke-width="1" fill="#F8766D"/>
<ellipse cx="477" cy="466.6" rx="2.6" ry="2.2" stroke="none" stroke-width="1" fill="#F8766D"/>
<ellipse cx="498.4" cy="473.1" rx="2.6" ry="2.2" stroke="none" stroke-width="1" fill="#F8766D"/>
<ellipse cx="482.5" cy="303.6" rx="2.6" ry="2.2" stroke="none" stroke-width="1" fill="#00BFC4"/>
<ellipse cx="502" cy="360.2" rx="2.6" ry="2.2" stroke="none" stroke-width="1" fill="#00BFC4"/>
<ellipse cx="516.8" cy="383.5" rx="2.6" ry="2.2" stroke="none" stroke-width="1" fill="#00BFC4"/>
<ellipse cx="528.6" cy="385.6" rx="2.6" ry="2.2" stroke="none" stroke-width="1" fill="#00BFC4"/>
<ellipse cx="546" cy="380.7" rx="2.6" ry="2.2" stroke="none" stroke-width="1" fill="#00BFC4"/>
<ellipse cx="555.2" cy="384.8" rx="2.6" ry="2.2" stroke="none" stroke-width="1" fill="#00BFC4"/>
<ellipse cx="541.9" cy="367.2" rx="2.6" ry="2.2" stroke="none" stroke-width="1" fill="#00BFC4"/>
<ellipse cx="549" cy="367.5" rx="2.6" ry="2.2" stroke="none" stroke-width="1" fill="#00BFC4"/>
<ellipse cx="552" cy="368" rx="2.6" ry="2.2" stroke="none" stroke-width="1" fill="#00BFC4"/>
<ellipse cx="555" cy="369.5" rx="2.6" ry="2.2" stroke="none" stroke-width="1" fill="#00BFC4"/>
<ellipse cx="567" cy="366.8" rx="2.6" ry="2.2" stroke="none" stroke-width="1" fill="#00BFC4"/>
<ellipse cx="572.6" cy="368.4" rx="2.6" ry="2.2" stroke="none" stroke-width="1" fill="#00BFC4"/>
<ellipse cx="546.6" cy="392.3" rx="2.6" ry="2.2" stroke="none" stroke-width="1" fill="#00BFC4"/>
<ellipse cx="551.5" cy="395.8" rx="2.6" ry="2.2" stroke="none" stroke-width="1" fill="#00BFC4"/>
<ellipse cx="561.3" cy="388.9" rx="2.6" ry="2.2" stroke="none" stroke-width="1" fill="#00BFC4"/>
<ellipse cx="572" cy="389" rx="2.6" ry="2.2" stroke="none" stroke-width="1" fill="#00BFC4"/>
<ellipse cx="576" cy="390" rx="2.6" ry="2.2" stroke="none" stroke-width="1" fill="#00BFC4"/>
<ellipse cx="580" cy="392" rx="2.6" ry="2.2" stroke="none" stroke-width="1" fill="#00BFC4"/>
<ellipse cx="583.8" cy="397.4" rx="2.6" ry="2.2" stroke="none" stroke-width="1" fill="#00BFC4"/>
<ellipse cx="588" cy="396" rx="2.6" ry="2.2" stroke="none" stroke-width="1" fill="#00BFC4"/>
<ellipse cx="600.1" cy="400.5" rx="2.6" ry="2.2" stroke="none" stroke-width="1" fill="#00BFC4"/>
<ellipse cx="596" cy="405.6" rx="2.6" ry="2.2" stroke="none" stroke-width="1" fill="#00BFC4"/>
<ellipse cx="561.3" cy="404" rx="2.6" ry="2.2" stroke="none" stroke-width="1" fill="#00BFC4"/>
<ellipse cx="565.4" cy="409.3" rx="2.6" ry="2.2" stroke="none" stroke-width="1" fill="#00BFC4"/>
<ellipse cx="582.8" cy="407.7" rx="2.6" ry="2.2" stroke="none" stroke-width="1" fill="#00BFC4"/>
<ellipse cx="578" cy="408" rx="2.6" ry="2.2" stroke="none" stroke-width="1" fill="#00BFC4"/>
<ellipse cx="575" cy="410" rx="2.6" ry="2.2" stroke="none" stroke-width="1" fill="#00BFC4"/>
<ellipse cx="591" cy="411.7" rx="2.6" ry="2.2" stroke="none" stroke-width="1" fill="#00BFC4"/>
<ellipse cx="572.6" cy="414.2" rx="2.6" ry="2.2" stroke="none" stroke-width="1" fill="#00BFC4"/>
<ellipse cx="581.7" cy="422.4" rx="2.6" ry="2.2" stroke="none" stroke-width="1" fill="#00BFC4"/>
<ellipse cx="594" cy="421" rx="2.6" ry="2.2" stroke="none" stroke-width="1" fill="#00BFC4"/>
<ellipse cx="601.6" cy="456.1" rx="2.6" ry="2.2" stroke="none" stroke-width="1" fill="#00BFC4"/>
<ellipse cx="621" cy="473.7" rx="2.6" ry="2.2" stroke="none" stroke-width="1" fill="#00BFC4"/>
<ellipse cx="651.8" cy="440.4" rx="2.6" ry="2.2" stroke="none" stroke-width="1" fill="#00BFC4"/>
<text transform="translate(452.7,366.7) scale(1.22,1)" font-family="Liberation Sans" font-size="10.3" fill="#F8766D" text-anchor="start" font-weight="normal">36</text>
<text transform="translate(445.9,373.2) scale(1.22,1)" font-family="Liberation Sans" font-size="10.3" fill="#F8766D" text-anchor="start" font-weight="normal">35</text>
<text transform="translate(403.2,378.7) scale(1.22,1)" font-family="Liberation Sans" font-size="10.3" fill="#F8766D" text-anchor="start" font-weight="normal">47</text>
<text transform="translate(441.5,384.2) scale(1.22,1)" font-family="Liberation Sans" font-size="10.3" fill="#F8766D" text-anchor="start" font-weight="normal">37</text>
<text transform="translate(440.4,385) scale(1.22,1)" font-family="Liberation Sans" font-size="10.3" fill="#F8766D" text-anchor="start" font-weight="normal">56</text>
<text transform="translate(437.3,389.6) scale(1.22,1)" font-family="Liberation Sans" font-size="10.3" fill="#F8766D" text-anchor="start" font-weight="normal">54</text>
<text transform="translate(425.7,401.5) scale(1.22,1)" font-family="Liberation Sans" font-size="10.3" fill="#F8766D" text-anchor="start" font-weight="normal">48</text>
<text transform="translate(443.2,401.7) scale(1.22,1)" font-family="Liberation Sans" font-size="10.3" fill="#F8766D" text-anchor="start" font-weight="normal">55</text>
<text transform="translate(431.2,406.1) scale(1.22,1)" font-family="Liberation Sans" font-size="10.3" fill="#F8766D" text-anchor="start" font-weight="normal">65</text>
<text transform="translate(441,404.3) scale(1.22,1)" font-family="Liberation Sans" font-size="10.3" fill="#F8766D" text-anchor="start" font-weight="normal">46</text>
<text transform="translate(471.7,406.5) scale(1.22,1)" font-family="Liberation Sans" font-size="10.3" fill="#F8766D" text-anchor="start" font-weight="normal">53</text>
<text transform="translate(465.1,408) scale(1.22,1)" font-family="Liberation Sans" font-size="10.3" fill="#F8766D" text-anchor="start" font-weight="normal">63</text>
<text transform="translate(465.1,410.2) scale(1.22,1)" font-family="Liberation Sans" font-size="10.3" fill="#F8766D" text-anchor="start" font-weight="normal">62</text>
<text transform="translate(487.7,417.5) scale(1.22,1)" font-family="Liberation Sans" font-size="10.3" fill="#F8766D" text-anchor="start" font-weight="normal">58</text>
<text transform="translate(436.7,417.5) scale(1.22,1)" font-family="Liberation Sans" font-size="10.3" fill="#F8766D" text-anchor="start" font-weight="normal">51</text>
<text transform="translate(438.4,417.1) scale(1.22,1)" font-family="Liberation Sans" font-size="10.3" fill="#F8766D" text-anchor="start" font-weight="normal">61</text>
<text transform="translate(443.9,420.7) scale(1.22,1)" font-family="Liberation Sans" font-size="10.3" fill="#F8766D" text-anchor="start" font-weight="normal">64</text>
<text transform="translate(461.8,424.7) scale(1.22,1)" font-family="Liberation Sans" font-size="10.3" fill="#F8766D" text-anchor="start" font-weight="normal">50</text>
<text transform="translate(449.8,428) scale(1.22,1)" font-family="Liberation Sans" font-size="10.3" fill="#F8766D" text-anchor="start" font-weight="normal">39</text>
<text transform="translate(457.5,428.4) scale(1.22,1)" font-family="Liberation Sans" font-size="10.3" fill="#F8766D" text-anchor="start" font-weight="normal">43</text>
<text transform="translate(464,428.4) scale(1.22,1)" font-family="Liberation Sans" font-size="10.3" fill="#F8766D" text-anchor="start" font-weight="normal">31</text>
<text transform="translate(476.1,435) scale(1.22,1)" font-family="Liberation Sans" font-size="10.3" fill="#F8766D" text-anchor="start" font-weight="normal">52</text>
<text transform="translate(487,440) scale(1.22,1)" font-family="Liberation Sans" font-size="10.3" fill="#F8766D" text-anchor="start" font-weight="normal">40</text>
<text transform="translate(453.1,442) scale(1.22,1)" font-family="Liberation Sans" font-size="10.3" fill="#F8766D" text-anchor="start" font-weight="normal">49</text>
<text transform="translate(460.8,443.7) scale(1.22,1)" font-family="Liberation Sans" font-size="10.3" fill="#F8766D" text-anchor="start" font-weight="normal">33</text>
<text transform="translate(480.5,449.6) scale(1.22,1)" font-family="Liberation Sans" font-size="10.3" fill="#F8766D" text-anchor="start" font-weight="normal">41</text>
<text transform="translate(503,449.6) scale(1.22,1)" font-family="Liberation Sans" font-size="10.3" fill="#F8766D" text-anchor="start" font-weight="normal">59</text>
<text transform="translate(453.1,455.1) scale(1.22,1)" font-family="Liberation Sans" font-size="10.3" fill="#F8766D" text-anchor="start" font-weight="normal">42</text>
<text transform="translate(489.7,466.1) scale(1.22,1)" font-family="Liberation Sans" font-size="10.3" fill="#F8766D" text-anchor="start" font-weight="normal">44</text>
<text transform="translate(476.7,468.9) scale(1.22,1)" font-family="Liberation Sans" font-size="10.3" fill="#F8766D" text-anchor="start" font-weight="normal">57</text>
<text transform="translate(479.4,470.7) scale(1.22,1)" font-family="Liberation Sans" font-size="10.3" fill="#F8766D" text-anchor="start" font-weight="normal">45</text>
<text transform="translate(500.8,477.2) scale(1.22,1)" font-family="Liberation Sans" font-size="10.3" fill="#F8766D" text-anchor="start" font-weight="normal">60</text>
<text transform="translate(484.9,307.7) scale(1.22,1)" font-family="Liberation Sans" font-size="10.3" fill="#00BFC4" text-anchor="start" font-weight="normal">9</text>
<text transform="translate(504.4,364.3) scale(1.22,1)" font-family="Liberation Sans" font-size="10.3" fill="#00BFC4" text-anchor="start" font-weight="normal">21</text>
<text transform="translate(519.2,387.6) scale(1.22,1)" font-family="Liberation Sans" font-size="10.3" fill="#00BFC4" text-anchor="start" font-weight="normal">1</text>
<text transform="translate(531,389.7) scale(1.22,1)" font-family="Liberation Sans" font-size="10.3" fill="#00BFC4" text-anchor="start" font-weight="normal">22</text>
<text transform="translate(548.4,384.8) scale(1.22,1)" font-family="Liberation Sans" font-size="10.3" fill="#00BFC4" text-anchor="start" font-weight="normal">27</text>
<text transform="translate(557.6,388.9) scale(1.22,1)" font-family="Liberation Sans" font-size="10.3" fill="#00BFC4" text-anchor="start" font-weight="normal">17</text>
<text transform="translate(544.3,371.3) scale(1.22,1)" font-family="Liberation Sans" font-size="10.3" fill="#00BFC4" text-anchor="start" font-weight="normal">25</text>
<text transform="translate(551.4,371.6) scale(1.22,1)" font-family="Liberation Sans" font-size="10.3" fill="#00BFC4" text-anchor="start" font-weight="normal">5</text>
<text transform="translate(554.4,372.1) scale(1.22,1)" font-family="Liberation Sans" font-size="10.3" fill="#00BFC4" text-anchor="start" font-weight="normal">13</text>
<text transform="translate(557.4,373.6) scale(1.22,1)" font-family="Liberation Sans" font-size="10.3" fill="#00BFC4" text-anchor="start" font-weight="normal">3</text>
<text transform="translate(569.4,370.9) scale(1.22,1)" font-family="Liberation Sans" font-size="10.3" fill="#00BFC4" text-anchor="start" font-weight="normal">28</text>
<text transform="translate(575,372.5) scale(1.22,1)" font-family="Liberation Sans" font-size="10.3" fill="#00BFC4" text-anchor="start" font-weight="normal">11</text>
<text transform="translate(549,396.4) scale(1.22,1)" font-family="Liberation Sans" font-size="10.3" fill="#00BFC4" text-anchor="start" font-weight="normal">4</text>
<text transform="translate(553.9,399.9) scale(1.22,1)" font-family="Liberation Sans" font-size="10.3" fill="#00BFC4" text-anchor="start" font-weight="normal">8</text>
<text transform="translate(563.7,393) scale(1.22,1)" font-family="Liberation Sans" font-size="10.3" fill="#00BFC4" text-anchor="start" font-weight="normal">16</text>
<text transform="translate(574.4,393.1) scale(1.22,1)" font-family="Liberation Sans" font-size="10.3" fill="#00BFC4" text-anchor="start" font-weight="normal">20</text>
<text transform="translate(578.4,394.1) scale(1.22,1)" font-family="Liberation Sans" font-size="10.3" fill="#00BFC4" text-anchor="start" font-weight="normal">30</text>
<text transform="translate(582.4,396.1) scale(1.22,1)" font-family="Liberation Sans" font-size="10.3" fill="#00BFC4" text-anchor="start" font-weight="normal">18</text>
<text transform="translate(586.2,401.5) scale(1.22,1)" font-family="Liberation Sans" font-size="10.3" fill="#00BFC4" text-anchor="start" font-weight="normal">3</text>
<text transform="translate(590.4,400.1) scale(1.22,1)" font-family="Liberation Sans" font-size="10.3" fill="#00BFC4" text-anchor="start" font-weight="normal">31</text>
<text transform="translate(602.5,404.6) scale(1.22,1)" font-family="Liberation Sans" font-size="10.3" fill="#00BFC4" text-anchor="start" font-weight="normal">19</text>
<text transform="translate(598.4,409.7) scale(1.22,1)" font-family="Liberation Sans" font-size="10.3" fill="#00BFC4" text-anchor="start" font-weight="normal">26</text>
<text transform="translate(563.7,408.1) scale(1.22,1)" font-family="Liberation Sans" font-size="10.3" fill="#00BFC4" text-anchor="start" font-weight="normal">23</text>
<text transform="translate(567.8,413.4) scale(1.22,1)" font-family="Liberation Sans" font-size="10.3" fill="#00BFC4" text-anchor="start" font-weight="normal">15</text>
<text transform="translate(585.2,411.8) scale(1.22,1)" font-family="Liberation Sans" font-size="10.3" fill="#00BFC4" text-anchor="start" font-weight="normal">14</text>
<text transform="translate(580.4,412.1) scale(1.22,1)" font-family="Liberation Sans" font-size="10.3" fill="#00BFC4" text-anchor="start" font-weight="normal">24</text>
<text transform="translate(577.4,414.1) scale(1.22,1)" font-family="Liberation Sans" font-size="10.3" fill="#00BFC4" text-anchor="start" font-weight="normal">2</text>
<text transform="translate(593.4,415.8) scale(1.22,1)" font-family="Liberation Sans" font-size="10.3" fill="#00BFC4" text-anchor="start" font-weight="normal">5</text>
<text transform="translate(575,418.3) scale(1.22,1)" font-family="Liberation Sans" font-size="10.3" fill="#00BFC4" text-anchor="start" font-weight="normal">6</text>
<text transform="translate(584.1,426.5) scale(1.22,1)" font-family="Liberation Sans" font-size="10.3" fill="#00BFC4" text-anchor="start" font-weight="normal">29</text>
<text transform="translate(596.4,425.1) scale(1.22,1)" font-family="Liberation Sans" font-size="10.3" fill="#00BFC4" text-anchor="start" font-weight="normal">7</text>
<text transform="translate(604,460.2) scale(1.22,1)" font-family="Liberation Sans" font-size="10.3" fill="#00BFC4" text-anchor="start" font-weight="normal">12</text>
<text transform="translate(623.4,477.8) scale(1.22,1)" font-family="Liberation Sans" font-size="10.3" fill="#00BFC4" text-anchor="start" font-weight="normal">10</text>
<text transform="translate(654.2,444.5) scale(1.22,1)" font-family="Liberation Sans" font-size="10.3" fill="#00BFC4" text-anchor="start" font-weight="normal">32</text>
</g>
<rect x="388.5" y="294.5" width="275.7" height="199" fill="none" stroke="#666" stroke-width="1.2" rx="0" ry="0"/>
<line x1="405.3" y1="493.5" x2="405.3" y2="496.7" stroke="#666" stroke-width="1.2"/>
<text transform="translate(405.3,504.7) scale(1.2,1)" font-family="Liberation Sans" font-size="8.7" fill="#4d4d4d" text-anchor="middle" font-weight="normal">−10</text>
<line x1="457.4" y1="493.5" x2="457.4" y2="496.7" stroke="#666" stroke-width="1.2"/>
<text transform="translate(457.4,504.7) scale(1.2,1)" font-family="Liberation Sans" font-size="8.7" fill="#4d4d4d" text-anchor="middle" font-weight="normal">−5</text>
<line x1="511.4" y1="493.5" x2="511.4" y2="496.7" stroke="#666" stroke-width="1.2"/>
<text transform="translate(511.4,504.7) scale(1.2,1)" font-family="Liberation Sans" font-size="8.7" fill="#4d4d4d" text-anchor="middle" font-weight="normal">0</text>
<line x1="565.6" y1="493.5" x2="565.6" y2="496.7" stroke="#666" stroke-width="1.2"/>
<text transform="translate(565.6,504.7) scale(1.2,1)" font-family="Liberation Sans" font-size="8.7" fill="#4d4d4d" text-anchor="middle" font-weight="normal">5</text>
<line x1="619.8" y1="493.5" x2="619.8" y2="496.7" stroke="#666" stroke-width="1.2"/>
<text transform="translate(619.8,504.7) scale(1.2,1)" font-family="Liberation Sans" font-size="8.7" fill="#4d4d4d" text-anchor="middle" font-weight="normal">10</text>
<line x1="384.9" y1="327.5" x2="388.5" y2="327.5" stroke="#666" stroke-width="1.2"/>
<text transform="translate(383.5,330.6) scale(1.2,1)" font-family="Liberation Sans" font-size="8.7" fill="#4d4d4d" text-anchor="end" font-weight="normal">10</text>
<line x1="384.9" y1="366.9" x2="388.5" y2="366.9" stroke="#666" stroke-width="1.2"/>
<text transform="translate(383.5,370) scale(1.2,1)" font-family="Liberation Sans" font-size="8.7" fill="#4d4d4d" text-anchor="end" font-weight="normal">5</text>
<line x1="384.9" y1="406.1" x2="388.5" y2="406.1" stroke="#666" stroke-width="1.2"/>
<text transform="translate(383.5,409.2) scale(1.2,1)" font-family="Liberation Sans" font-size="8.7" fill="#4d4d4d" text-anchor="end" font-weight="normal">0</text>
<line x1="384.9" y1="445.5" x2="388.5" y2="445.5" stroke="#666" stroke-width="1.2"/>
<text transform="translate(383.5,448.6) scale(1.2,1)" font-family="Liberation Sans" font-size="8.7" fill="#4d4d4d" text-anchor="end" font-weight="normal">−5</text>
<line x1="384.9" y1="484.9" x2="388.5" y2="484.9" stroke="#666" stroke-width="1.2"/>
<text transform="translate(383.5,488) scale(1.2,1)" font-family="Liberation Sans" font-size="8.7" fill="#4d4d4d" text-anchor="end" font-weight="normal">−10</text>
<text transform="translate(99,271.6)" font-family="Liberation Sans" font-size="10.2" fill="#1a1a1a" text-anchor="start" font-weight="normal" textLength="28.3" lengthAdjust="spacingAndGlyphs">class</text>
<line x1="136" y1="268.1" x2="152.3" y2="268.1" stroke="#F8766D" stroke-width="1.6" stroke-opacity="0.75"/>
<text transform="translate(144.15,272.2) scale(1.2,1)" font-family="Liberation Sans" font-size="7.5" fill="#F8766D" text-anchor="middle" font-weight="normal">a</text>
<circle cx="144.15" cy="267.9" r="2.5" stroke="none" stroke-width="1" fill="#F8766D"/>
<line x1="200.4" y1="268.1" x2="216.6" y2="268.1" stroke="#00BFC4" stroke-width="1.6" stroke-opacity="0.75"/>
<text transform="translate(208.5,272.2) scale(1.2,1)" font-family="Liberation Sans" font-size="7.5" fill="#00BFC4" text-anchor="middle" font-weight="normal">a</text>
<circle cx="208.5" cy="267.9" r="2.5" stroke="none" stroke-width="1" fill="#00BFC4"/>
<text transform="translate(160.7,271.3)" font-family="Liberation Sans" font-size="8.4" fill="#1a1a1a" text-anchor="start" font-weight="normal" textLength="30.6" lengthAdjust="spacingAndGlyphs">control</text>
<text transform="translate(224.3,271.3)" font-family="Liberation Sans" font-size="8.4" fill="#1a1a1a" text-anchor="start" font-weight="normal" textLength="36.7" lengthAdjust="spacingAndGlyphs">patients</text>
<text transform="translate(447.2,274.6)" font-family="Liberation Sans" font-size="10.2" fill="#1a1a1a" text-anchor="start" font-weight="normal" textLength="27.9" lengthAdjust="spacingAndGlyphs">class</text>
<line x1="483.4" y1="271.1" x2="499.9" y2="271.1" stroke="#F8766D" stroke-width="1.6" stroke-opacity="0.75"/>
<text transform="translate(491.65,275.2) scale(1.2,1)" font-family="Liberation Sans" font-size="7.5" fill="#F8766D" text-anchor="middle" font-weight="normal">a</text>
<circle cx="491.65" cy="270.9" r="2.5" stroke="none" stroke-width="1" fill="#F8766D"/>
<line x1="546.4" y1="271.1" x2="562.2" y2="271.1" stroke="#00BFC4" stroke-width="1.6" stroke-opacity="0.75"/>
<text transform="translate(554.3,275.2) scale(1.2,1)" font-family="Liberation Sans" font-size="7.5" fill="#00BFC4" text-anchor="middle" font-weight="normal">a</text>
<circle cx="554.3" cy="270.9" r="2.5" stroke="none" stroke-width="1" fill="#00BFC4"/>
<text transform="translate(507.6,274.3)" font-family="Liberation Sans" font-size="8.4" fill="#1a1a1a" text-anchor="start" font-weight="normal" textLength="30.2" lengthAdjust="spacingAndGlyphs">control</text>
<text transform="translate(569.8,274.3)" font-family="Liberation Sans" font-size="8.4" fill="#1a1a1a" text-anchor="start" font-weight="normal" textLength="35.9" lengthAdjust="spacingAndGlyphs">patients</text>
<text transform="translate(142.5,516.1)" font-family="Liberation Sans" font-size="10.6" fill="#1a1a1a" text-anchor="start" font-weight="normal" textLength="71.4" lengthAdjust="spacingAndGlyphs">PC1 (5.96%)</text>
<text transform="translate(120.6,527)" font-family="Liberation Sans" font-size="10.6" fill="#1a1a1a" text-anchor="start" font-weight="normal" textLength="117.4" lengthAdjust="spacingAndGlyphs">R2Y: 0.94, Q2Y: 0.71</text>
<text transform="translate(489.9,517)" font-family="Liberation Sans" font-size="10.6" fill="#1a1a1a" text-anchor="start" font-weight="normal" textLength="71" lengthAdjust="spacingAndGlyphs">PC1 (6.52%)</text>
<text transform="translate(467.7,527)" font-family="Liberation Sans" font-size="10.6" fill="#1a1a1a" text-anchor="start" font-weight="normal" textLength="117.4" lengthAdjust="spacingAndGlyphs">R2Y: 0.93, Q2Y: 0.64</text>
<text transform="translate(9.6,394.6) scale(1.2,1) rotate(-90)" font-family="Liberation Sans" font-size="10.2" fill="#1a1a1a" text-anchor="middle" font-weight="normal" textLength="58" lengthAdjust="spacingAndGlyphs">PC2 (4.45%)</text>
<text transform="translate(360.1,396.1) scale(1.2,1) rotate(-90)" font-family="Liberation Sans" font-size="10.2" fill="#1a1a1a" text-anchor="middle" font-weight="normal" textLength="58" lengthAdjust="spacingAndGlyphs">PC2 (4.28%)</text>
<clipPath id="clipE"><rect x="45.1" y="556.5" width="277.4" height="207.5"/></clipPath>
<g clip-path="url(#clipE)">
<line x1="43.1" y1="584.68" x2="324.5" y2="569.83" stroke="#0000ff" stroke-width="1" stroke-dasharray="3.6,3.2"/>
<line x1="43.1" y1="711.83" x2="324.5" y2="587.72" stroke="#ff0000" stroke-width="1" stroke-dasharray="3.6,3.2"/>
<rect x="51.8" y="573.2" width="6.8" height="16.4" fill="#0000ff" stroke="none" stroke-width="0" rx="3.4" ry="2.5"/>
<rect x="68.1" y="576.3" width="6.8" height="15.6" fill="#0000ff" stroke="none" stroke-width="0" rx="3.4" ry="2.5"/>
<rect x="84.5" y="574.8" width="6.8" height="15.5" fill="#0000ff" stroke="none" stroke-width="0" rx="3.4" ry="2.5"/>
<rect x="100.1" y="576.3" width="6.8" height="13.3" fill="#0000ff" stroke="none" stroke-width="0" rx="3.4" ry="2.5"/>
<rect x="116.5" y="577.9" width="6.8" height="10" fill="#0000ff" stroke="none" stroke-width="0" rx="3.4" ry="2.5"/>
<ellipse cx="135.8" cy="583.7" rx="3.4" ry="2.5" stroke="none" stroke-width="1" fill="#0000ff"/>
<ellipse cx="312.2" cy="570.5" rx="3.4" ry="2.5" stroke="none" stroke-width="1" fill="#0000ff"/>
<rect x="51.85" y="656.6" width="6.7" height="14.6" fill="#ff0000" stroke="none" stroke-width="1" rx="0" ry="0"/>
<rect x="51.85" y="672.4" width="6.7" height="54.3" fill="#ff0000" stroke="none" stroke-width="1" rx="0" ry="0"/>
<rect x="51.85" y="734.3" width="6.7" height="4.2" fill="#ff0000" stroke="none" stroke-width="1" rx="0" ry="0"/>
<rect x="67.95" y="654" width="6.7" height="6.7" fill="#ff0000" stroke="none" stroke-width="1" rx="0" ry="0"/>
<rect x="67.95" y="667.2" width="6.7" height="61.3" fill="#ff0000" stroke="none" stroke-width="1" rx="0" ry="0"/>
<rect x="67.95" y="731.1" width="6.7" height="12.6" fill="#ff0000" stroke="none" stroke-width="1" rx="0" ry="0"/>
<rect x="67.95" y="754.2" width="6.7" height="4.6" fill="#ff0000" stroke="none" stroke-width="1" rx="0" ry="0"/>
<rect x="84.05" y="663.7" width="6.7" height="61.3" fill="#ff0000" stroke="none" stroke-width="1" rx="0" ry="0"/>
<rect x="84.05" y="726.7" width="6.7" height="4.8" fill="#ff0000" stroke="none" stroke-width="1" rx="0" ry="0"/>
<rect x="100.35" y="655.2" width="6.7" height="4.6" fill="#ff0000" stroke="none" stroke-width="1" rx="0" ry="0"/>
<rect x="100.35" y="664" width="6.7" height="4.9" fill="#ff0000" stroke="none" stroke-width="1" rx="0" ry="0"/>
<rect x="100.35" y="671.2" width="6.7" height="11.4" fill="#ff0000" stroke="none" stroke-width="1" rx="0" ry="0"/>
<rect x="100.35" y="689.9" width="6.7" height="28.1" fill="#ff0000" stroke="none" stroke-width="1" rx="0" ry="0"/>
<rect x="100.35" y="720.2" width="6.7" height="4.8" fill="#ff0000" stroke="none" stroke-width="1" rx="0" ry="0"/>
<rect x="116.15" y="663.1" width="6.7" height="4.9" fill="#ff0000" stroke="none" stroke-width="1" rx="0" ry="0"/>
<rect x="116.15" y="679.4" width="6.7" height="6.5" fill="#ff0000" stroke="none" stroke-width="1" rx="0" ry="0"/>
<rect x="116.15" y="693.4" width="6.7" height="5.3" fill="#ff0000" stroke="none" stroke-width="1" rx="0" ry="0"/>
<rect x="116.15" y="704" width="6.7" height="4.3" fill="#ff0000" stroke="none" stroke-width="1" rx="0" ry="0"/>
<rect x="116.15" y="711" width="6.7" height="4.9" fill="#ff0000" stroke="none" stroke-width="1" rx="0" ry="0"/>
<rect x="132.25" y="694" width="6.7" height="4.7" fill="#ff0000" stroke="none" stroke-width="1" rx="0" ry="0"/>
<rect x="308.85" y="590.8" width="6.7" height="4.8" fill="#ff0000" stroke="none" stroke-width="1" rx="0" ry="0"/>
</g>
<rect x="45.1" y="556.5" width="277.4" height="207.5" fill="none" stroke="#222" stroke-width="1.2" rx="0" ry="0"/>
<rect x="270.5" y="725.2" width="52" height="38.8" fill="#fff" stroke="#222" stroke-width="1.2" rx="0" ry="0"/>
<ellipse cx="283.6" cy="738" rx="3.5" ry="2.4" stroke="none" stroke-width="1" fill="#0000ff"/>
<rect x="280.1" y="748.9" width="7" height="4.8" fill="#ff0000" stroke="none" stroke-width="1" rx="0" ry="0"/>
<text transform="translate(297.6,741.8)" font-family="Liberation Sans" font-size="10.2" fill="#111" text-anchor="start" font-weight="normal" textLength="17" lengthAdjust="spacingAndGlyphs">R2</text>
<text transform="translate(297.6,755.1)" font-family="Liberation Sans" font-size="10.2" fill="#111" text-anchor="start" font-weight="normal" textLength="17.5" lengthAdjust="spacingAndGlyphs">Q2</text>
<line x1="55.2" y1="764" x2="55.2" y2="770.3" stroke="#222" stroke-width="1.1"/>
<text transform="translate(55.2,783.2) scale(1.38,1)" font-family="Liberation Sans" font-size="10.4" fill="#222" text-anchor="middle" font-weight="normal">0.0</text>
<line x1="106.6" y1="764" x2="106.6" y2="770.3" stroke="#222" stroke-width="1.1"/>
<text transform="translate(106.6,783.2) scale(1.38,1)" font-family="Liberation Sans" font-size="10.4" fill="#222" text-anchor="middle" font-weight="normal">0.2</text>
<line x1="158" y1="764" x2="158" y2="770.3" stroke="#222" stroke-width="1.1"/>
<text transform="translate(158,783.2) scale(1.38,1)" font-family="Liberation Sans" font-size="10.4" fill="#222" text-anchor="middle" font-weight="normal">0.4</text>
<line x1="209.4" y1="764" x2="209.4" y2="770.3" stroke="#222" stroke-width="1.1"/>
<text transform="translate(209.4,783.2) scale(1.38,1)" font-family="Liberation Sans" font-size="10.4" fill="#222" text-anchor="middle" font-weight="normal">0.6</text>
<line x1="260.8" y1="764" x2="260.8" y2="770.3" stroke="#222" stroke-width="1.1"/>
<text transform="translate(260.8,783.2) scale(1.38,1)" font-family="Liberation Sans" font-size="10.4" fill="#222" text-anchor="middle" font-weight="normal">0.8</text>
<line x1="312.2" y1="764" x2="312.2" y2="770.3" stroke="#222" stroke-width="1.1"/>
<text transform="translate(312.2,783.2) scale(1.38,1)" font-family="Liberation Sans" font-size="10.4" fill="#222" text-anchor="middle" font-weight="normal">1.0</text>
<line x1="36.3" y1="563.8" x2="45.1" y2="563.8" stroke="#333" stroke-width="1.2"/>
<text transform="translate(31.2,564.6) scale(1.38,1) rotate(-90)" font-family="Liberation Sans" font-size="10.4" fill="#222" text-anchor="middle" font-weight="normal">1.0</text>
<line x1="36.3" y1="614.4" x2="45.1" y2="614.4" stroke="#333" stroke-width="1.2"/>
<text transform="translate(31.2,615.2) scale(1.38,1) rotate(-90)" font-family="Liberation Sans" font-size="10.4" fill="#222" text-anchor="middle" font-weight="normal">0.5</text>
<line x1="36.3" y1="665" x2="45.1" y2="665" stroke="#333" stroke-width="1.2"/>
<text transform="translate(31.2,665.8) scale(1.38,1) rotate(-90)" font-family="Liberation Sans" font-size="10.4" fill="#222" text-anchor="middle" font-weight="normal">0.0</text>
<line x1="36.3" y1="715.6" x2="45.1" y2="715.6" stroke="#333" stroke-width="1.2"/>
<text transform="translate(31.2,716.4) scale(1.38,1) rotate(-90)" font-family="Liberation Sans" font-size="10.4" fill="#222" text-anchor="middle" font-weight="normal">–0.5</text>
<text transform="translate(170.6,795.5)" font-family="Liberation Sans" font-size="12.6" fill="#111" text-anchor="start" font-weight="normal" textLength="25.9" lengthAdjust="spacingAndGlyphs">Cor</text>
<text transform="translate(13.4,660.6) scale(1.45,1) rotate(-90)" font-family="Liberation Sans" font-size="12.2" fill="#111" text-anchor="middle" font-weight="normal" textLength="30.5" lengthAdjust="spacingAndGlyphs">Value</text>
<text transform="translate(137.4,541.7)" font-family="Liberation Sans" font-size="11.2" fill="#111" text-anchor="start" font-weight="bold" textLength="44.74" lengthAdjust="spacingAndGlyphs">patients</text>
<rect x="182.74" y="541.6" width="6.58" height="1.3" fill="#111" stroke="none" stroke-width="1" rx="0" ry="0"/>
<text transform="translate(189.32,541.7)" font-family="Liberation Sans" font-size="11.2" fill="#111" text-anchor="start" font-weight="bold" textLength="39.48" lengthAdjust="spacingAndGlyphs">control</text>
<text transform="translate(72.4,552)" font-family="Liberation Sans" font-size="10" fill="#111" text-anchor="start" font-weight="bold" textLength="222.8" lengthAdjust="spacingAndGlyphs">Intercepts:R2=(0.0,0.80), Q2=(0.0,–0.40)</text>
<clipPath id="clipF"><rect x="395.2" y="556.8" width="272" height="209.2"/></clipPath>
<g clip-path="url(#clipF)">
<line x1="393.2" y1="584.38" x2="669.2" y2="571.03" stroke="#0000ff" stroke-width="1" stroke-dasharray="3.6,3.2"/>
<line x1="393.2" y1="696.94" x2="669.2" y2="591.08" stroke="#ff0000" stroke-width="1" stroke-dasharray="3.6,3.2"/>
<rect x="401.9" y="573.5" width="6.8" height="18" fill="#0000ff" stroke="none" stroke-width="0" rx="3.4" ry="2.5"/>
<rect x="417.6" y="574.7" width="6.8" height="18.2" fill="#0000ff" stroke="none" stroke-width="0" rx="3.4" ry="2.5"/>
<rect x="433.4" y="576.6" width="6.8" height="14" fill="#0000ff" stroke="none" stroke-width="0" rx="3.4" ry="2.5"/>
<rect x="449.1" y="577" width="6.8" height="14.1" fill="#0000ff" stroke="none" stroke-width="0" rx="3.4" ry="2.5"/>
<rect x="464.9" y="575.9" width="6.8" height="12.4" fill="#0000ff" stroke="none" stroke-width="0" rx="3.4" ry="2.5"/>
<rect x="480.6" y="578.9" width="6.8" height="7.5" fill="#0000ff" stroke="none" stroke-width="0" rx="3.4" ry="2.5"/>
<ellipse cx="656.8" cy="571" rx="3.4" ry="2.5" stroke="none" stroke-width="1" fill="#0000ff"/>
<rect x="401.85" y="647.3" width="6.7" height="48.3" fill="#ff0000" stroke="none" stroke-width="1" rx="0" ry="0"/>
<rect x="401.85" y="696.3" width="6.7" height="34.5" fill="#ff0000" stroke="none" stroke-width="1" rx="0" ry="0"/>
<rect x="401.85" y="731.4" width="6.7" height="6.6" fill="#ff0000" stroke="none" stroke-width="1" rx="0" ry="0"/>
<rect x="417.65" y="648.1" width="6.7" height="71.3" fill="#ff0000" stroke="none" stroke-width="1" rx="0" ry="0"/>
<rect x="417.65" y="724.9" width="6.7" height="4.9" fill="#ff0000" stroke="none" stroke-width="1" rx="0" ry="0"/>
<rect x="417.65" y="756.4" width="6.7" height="4.8" fill="#ff0000" stroke="none" stroke-width="1" rx="0" ry="0"/>
<rect x="433.45" y="648.1" width="6.7" height="68.1" fill="#ff0000" stroke="none" stroke-width="1" rx="0" ry="0"/>
<rect x="449.05" y="649" width="6.7" height="6.5" fill="#ff0000" stroke="none" stroke-width="1" rx="0" ry="0"/>
<rect x="449.05" y="659.5" width="6.7" height="12.2" fill="#ff0000" stroke="none" stroke-width="1" rx="0" ry="0"/>
<rect x="449.05" y="675" width="6.7" height="21.1" fill="#ff0000" stroke="none" stroke-width="1" rx="0" ry="0"/>
<rect x="449.05" y="697.8" width="6.7" height="5.7" fill="#ff0000" stroke="none" stroke-width="1" rx="0" ry="0"/>
<rect x="449.05" y="706.4" width="6.7" height="4.9" fill="#ff0000" stroke="none" stroke-width="1" rx="0" ry="0"/>
<rect x="449.05" y="717.3" width="6.7" height="4.9" fill="#ff0000" stroke="none" stroke-width="1" rx="0" ry="0"/>
<rect x="464.85" y="642" width="6.7" height="50.4" fill="#ff0000" stroke="none" stroke-width="1" rx="0" ry="0"/>
<rect x="464.85" y="696.1" width="6.7" height="5.4" fill="#ff0000" stroke="none" stroke-width="1" rx="0" ry="0"/>
<rect x="464.85" y="717.8" width="6.7" height="4.9" fill="#ff0000" stroke="none" stroke-width="1" rx="0" ry="0"/>
<rect x="480.65" y="656.3" width="6.7" height="11.4" fill="#ff0000" stroke="none" stroke-width="1" rx="0" ry="0"/>
<rect x="480.65" y="673.4" width="6.7" height="5.3" fill="#ff0000" stroke="none" stroke-width="1" rx="0" ry="0"/>
<rect x="480.65" y="684.8" width="6.7" height="8.9" fill="#ff0000" stroke="none" stroke-width="1" rx="0" ry="0"/>
<rect x="653.65" y="592.7" width="6.7" height="4.8" fill="#ff0000" stroke="none" stroke-width="1" rx="0" ry="0"/>
</g>
<rect x="395.2" y="556.8" width="272" height="209.2" fill="none" stroke="#222" stroke-width="1.2" rx="0" ry="0"/>
<rect x="616.1" y="727.4" width="51.1" height="38.6" fill="#fff" stroke="#222" stroke-width="1.2" rx="0" ry="0"/>
<ellipse cx="628.9" cy="740.2" rx="3.5" ry="2.4" stroke="none" stroke-width="1" fill="#0000ff"/>
<rect x="625.4" y="751.1" width="7" height="4.8" fill="#ff0000" stroke="none" stroke-width="1" rx="0" ry="0"/>
<text transform="translate(642.8,744)" font-family="Liberation Sans" font-size="10.2" fill="#111" text-anchor="start" font-weight="normal" textLength="16.8" lengthAdjust="spacingAndGlyphs">R2</text>
<text transform="translate(642.8,757.3)" font-family="Liberation Sans" font-size="10.2" fill="#111" text-anchor="start" font-weight="normal" textLength="17.3" lengthAdjust="spacingAndGlyphs">Q2</text>
<line x1="405.3" y1="766" x2="405.3" y2="772.3" stroke="#222" stroke-width="1.1"/>
<text transform="translate(405.3,785) scale(1.38,1)" font-family="Liberation Sans" font-size="10.4" fill="#222" text-anchor="middle" font-weight="normal">0.0</text>
<line x1="455.54" y1="766" x2="455.54" y2="772.3" stroke="#222" stroke-width="1.1"/>
<text transform="translate(455.54,785) scale(1.38,1)" font-family="Liberation Sans" font-size="10.4" fill="#222" text-anchor="middle" font-weight="normal">0.2</text>
<line x1="505.78" y1="766" x2="505.78" y2="772.3" stroke="#222" stroke-width="1.1"/>
<text transform="translate(505.78,785) scale(1.38,1)" font-family="Liberation Sans" font-size="10.4" fill="#222" text-anchor="middle" font-weight="normal">0.4</text>
<line x1="556.02" y1="766" x2="556.02" y2="772.3" stroke="#222" stroke-width="1.1"/>
<text transform="translate(556.02,785) scale(1.38,1)" font-family="Liberation Sans" font-size="10.4" fill="#222" text-anchor="middle" font-weight="normal">0.6</text>
<line x1="606.26" y1="766" x2="606.26" y2="772.3" stroke="#222" stroke-width="1.1"/>
<text transform="translate(606.26,785) scale(1.38,1)" font-family="Liberation Sans" font-size="10.4" fill="#222" text-anchor="middle" font-weight="normal">0.8</text>
<line x1="656.5" y1="766" x2="656.5" y2="772.3" stroke="#222" stroke-width="1.1"/>
<text transform="translate(656.5,785) scale(1.38,1)" font-family="Liberation Sans" font-size="10.4" fill="#222" text-anchor="middle" font-weight="normal">1.0</text>
<line x1="386.4" y1="564.7" x2="395.2" y2="564.7" stroke="#333" stroke-width="1.2"/>
<text transform="translate(382.8,565.5) scale(1.38,1) rotate(-90)" font-family="Liberation Sans" font-size="10.4" fill="#222" text-anchor="middle" font-weight="normal">1.0</text>
<line x1="386.4" y1="608.1" x2="395.2" y2="608.1" stroke="#333" stroke-width="1.2"/>
<text transform="translate(382.8,608.9) scale(1.38,1) rotate(-90)" font-family="Liberation Sans" font-size="10.4" fill="#222" text-anchor="middle" font-weight="normal">0.5</text>
<line x1="386.4" y1="651.5" x2="395.2" y2="651.5" stroke="#333" stroke-width="1.2"/>
<text transform="translate(382.8,652.3) scale(1.38,1) rotate(-90)" font-family="Liberation Sans" font-size="10.4" fill="#222" text-anchor="middle" font-weight="normal">0.0</text>
<line x1="386.4" y1="694.9" x2="395.2" y2="694.9" stroke="#333" stroke-width="1.2"/>
<text transform="translate(382.8,695.7) scale(1.38,1) rotate(-90)" font-family="Liberation Sans" font-size="10.4" fill="#222" text-anchor="middle" font-weight="normal">–0.5</text>
<line x1="386.4" y1="738.3" x2="395.2" y2="738.3" stroke="#333" stroke-width="1.2"/>
<text transform="translate(382.8,739.1) scale(1.38,1) rotate(-90)" font-family="Liberation Sans" font-size="10.4" fill="#222" text-anchor="middle" font-weight="normal">–1.0</text>
<text transform="translate(518.3,797.5)" font-family="Liberation Sans" font-size="12.6" fill="#111" text-anchor="start" font-weight="normal" textLength="25.9" lengthAdjust="spacingAndGlyphs">Cor</text>
<text transform="translate(364.9,661.3) scale(1.45,1) rotate(-90)" font-family="Liberation Sans" font-size="12.2" fill="#111" text-anchor="middle" font-weight="normal" textLength="30.5" lengthAdjust="spacingAndGlyphs">Value</text>
<text transform="translate(486,541.7)" font-family="Liberation Sans" font-size="11.2" fill="#111" text-anchor="start" font-weight="bold" textLength="43.91" lengthAdjust="spacingAndGlyphs">patients</text>
<rect x="530.51" y="541.6" width="6.45" height="1.3" fill="#111" stroke="none" stroke-width="1" rx="0" ry="0"/>
<text transform="translate(536.96,541.7)" font-family="Liberation Sans" font-size="11.2" fill="#111" text-anchor="start" font-weight="bold" textLength="38.74" lengthAdjust="spacingAndGlyphs">control</text>
<text transform="translate(422,552)" font-family="Liberation Sans" font-size="10" fill="#111" text-anchor="start" font-weight="bold" textLength="218.4" lengthAdjust="spacingAndGlyphs">Intercepts:R2=(0.0,0.78), Q2=(0.0,–0.47)</text></svg>
</body></html>
